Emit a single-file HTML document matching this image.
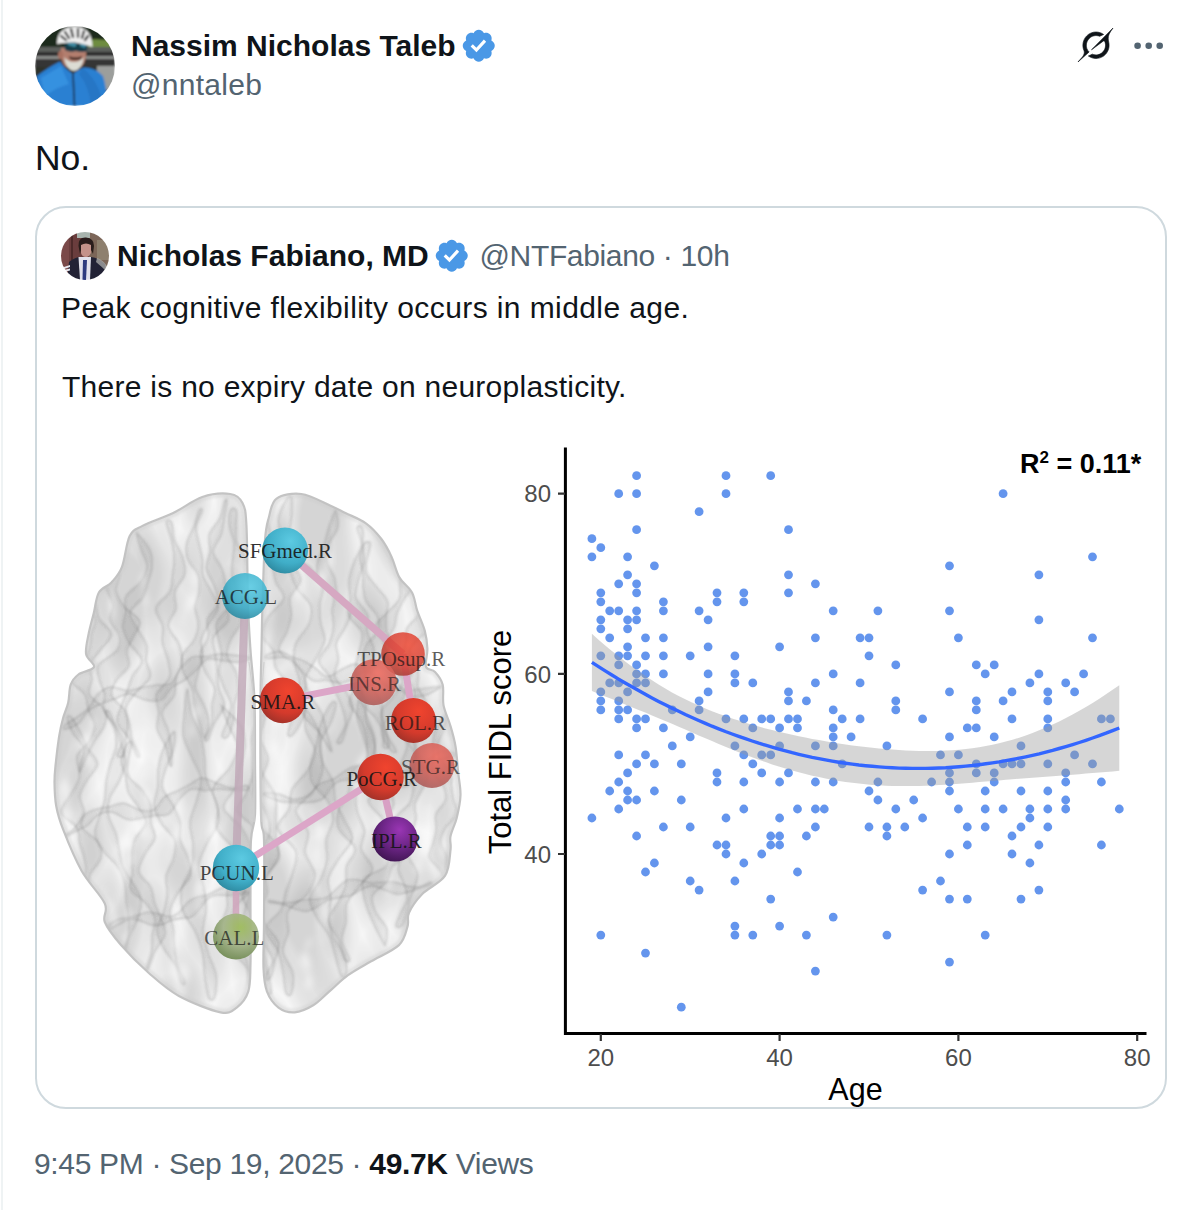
<!DOCTYPE html>
<html><head><meta charset="utf-8">
<style>
html,body{margin:0;padding:0;background:#fff;width:1194px;height:1210px;overflow:hidden;position:relative}
body{font-family:"Liberation Sans",sans-serif;color:#0f1419}
.t{position:absolute;white-space:pre;line-height:40px;font-size:30px}
.b{font-weight:700}
.g{color:#536471}
#lborder{position:absolute;left:1px;top:0;width:2px;height:1210px;background:#eff3f4}
#card{position:absolute;left:35px;top:206px;width:1128px;height:899px;border:2px solid #cfd9de;border-radius:31px;overflow:hidden}
svg{position:absolute;overflow:visible}
</style></head><body>
<div id="lborder"></div>

<!-- avatar 1 -->
<svg style="left:35px;top:26px" width="80" height="80" viewBox="0 0 80 80">
  <defs><clipPath id="av1"><circle cx="40" cy="40" r="40"/></clipPath>
  <filter id="avb" x="-10%" y="-10%" width="120%" height="120%"><feGaussianBlur stdDeviation="1"/></filter></defs>
  <g clip-path="url(#av1)"><g filter="url(#avb)">
    <rect width="80" height="80" fill="#2e302c"/>
    <rect x="0" y="0" width="80" height="21" fill="#1f2a1c"/>
    <path d="M52 14 Q66 12 80 16 L80 23 L52 23Z" fill="#6e8c40"/>
    <rect x="0" y="21" width="80" height="5" fill="#5c5e5c"/>
    <rect x="0" y="26" width="80" height="4" fill="#2a2b2a"/>
    <rect x="0" y="30" width="80" height="3" fill="#8a8c8a"/>
    <rect x="0" y="33" width="80" height="8" fill="#343534"/>
    <rect x="62" y="40" width="18" height="24" fill="#9c9e9c"/>
    <path d="M26 22 Q25 34 30 40 Q38 45 47 40 Q52 34 51 22Z" fill="#b37e6e"/>
    <ellipse cx="25.5" cy="29" rx="2.5" ry="4" fill="#a87060"/>
    <path d="M29 31 Q31 44 39 45 Q47 44 49 31 Q45 36 39 36 Q33 36 29 31Z" fill="#dcdcd4"/>
    <path d="M34 30 Q40 33 47 30 L46 33 Q40 35 35 33Z" fill="#3a2420"/>
    <path d="M29 15 Q41 13 53 16 L52 25 Q47 27 41 25 Q35 27 30 24Z" fill="#163c4a"/>
    <path d="M33 17 Q38 16 42 18 L40 21 Q36 20 33 19Z" fill="#3f8ea6"/>
    <path d="M45 18 Q49 17 51 19 L50 22 Q47 21 45 20Z" fill="#3f8ea6"/>
    <path d="M22 18 Q22 1 40 0.5 Q57 1 57.5 21 Q50 18 40 16.5 Q30 16 22 18Z" fill="#eeeeee"/>
    <path d="M30 6 L34 12 M36 3 L38 11 M43 3 L43 11 M49 5 L47 12 M26 10 L31 14 M53 10 L50 14" stroke="#1a1a1a" stroke-width="2.2" stroke-linecap="round"/>
    <path d="M2 50 Q12 42 25 35.5 Q29 42 38 48 Q46 42 49 41.5 Q62 42 68 50 Q72 62 72 80 L0 80Z" fill="#2c80d2"/>
    <path d="M6 52 Q16 46 26 40 Q30 50 34 58 Q20 62 10 70Z" fill="#3a98e6" opacity="0.7"/>
    <path d="M38 48 L39.5 80" stroke="#1c2c44" stroke-width="1.6"/>
    <path d="M48 42 Q58 50 64 64 L70 80 L56 80 Q54 60 44 48Z" fill="#2470bc" opacity="0.6"/>
  </g></g>
</svg>

<div class="t b" style="left:131px;top:25.6px">Nassim Nicholas Taleb</div>
<svg style="left:460px;top:27px" width="37.5" height="37.5" viewBox="0 0 24 24"><path fill="#4a98e6" d="M22.25 12c0-1.43-.88-2.67-2.19-3.34.46-1.39.2-2.9-.81-3.91s-2.52-1.27-3.91-.81c-.66-1.31-1.91-2.19-3.34-2.19s-2.67.88-3.33 2.19c-1.4-.46-2.91-.2-3.92.81s-1.26 2.520-.8 3.91c-1.31.67-2.2 1.91-2.2 3.34s.89 2.67 2.2 3.34c-.46 1.39-.21 2.9.8 3.91s2.52 1.26 3.91.81c.67 1.31 1.91 2.19 3.34 2.19s2.68-.88 3.34-2.19c1.39.45 2.9.2 3.91-.81s1.27-2.52.81-3.91c1.31-.67 2.19-1.91 2.19-3.34zm-11.71 4.2L6.8 12.460l1.41-1.42 2.26 2.26 4.8-5.23 1.47 1.36-6.2 6.77z"/></svg>
<div class="t g" style="left:131px;top:65.4px;letter-spacing:0.3px">@nntaleb</div>

<!-- grok icon -->
<svg style="left:1078px;top:28px" width="35" height="34" viewBox="0 0 33 32"><path fill="#0f1419" stroke="#0f1419" stroke-width="0.6" stroke-linejoin="round" d="M12.745 20.54l10.97-8.19c.539-.4 1.307-.244 1.564.38 1.349 3.288.746 7.241-1.938 9.955-2.683 2.714-6.417 3.31-9.83 1.954l-3.728 1.745c5.347 3.697 11.84 2.782 15.898-1.324 3.219-3.255 4.216-7.692 3.284-11.693l.008.009c-1.351-5.878.332-8.227 3.782-13.031L33 0l-4.54 4.59v-.014L12.743 20.544m-2.263 1.987c-3.837-3.707-3.175-9.446.1-12.755 2.42-2.449 6.388-3.448 9.852-1.979l3.72-1.737c-.67-.49-1.53-1.017-2.515-1.387-4.455-1.854-9.789-.931-13.41 2.728-3.483 3.523-4.579 8.94-2.697 13.561 1.405 3.454-.899 5.898-3.22 8.364C1.49 30.2.666 31.074 0 31.992l10.478-9.463"/></svg>
<svg style="left:1130px;top:38px" width="36" height="16" viewBox="0 0 36 16"><circle cx="7.6" cy="7.8" r="3.3" fill="#536471"/><circle cx="18.7" cy="7.8" r="3.3" fill="#536471"/><circle cx="29.7" cy="7.8" r="3.3" fill="#536471"/></svg>

<div class="t" style="left:34.9px;top:137.7px;font-size:35.5px">No.</div>

<div id="card">
</div>
<svg style="left:0;top:0" width="1194" height="1210" viewBox="0 0 1194 1210">
<defs>
<clipPath id="brainclip"><path d="M202.3 497.0 C211.8 493.8 223.5 493.0 230.2 494.0 C236.9 495.0 239.8 497.6 242.5 503.0 C245.2 508.4 245.6 509.7 246.5 526.5 C247.4 543.3 247.3 583.4 248.0 604.0 C248.7 624.6 249.4 634.0 250.5 650.0 C251.6 666.0 253.8 681.7 254.5 700.0 C255.2 718.3 254.9 740.8 255.0 760.0 C255.1 779.2 255.7 801.7 255.0 815.0 C254.3 828.3 251.8 826.0 251.0 840.0 C250.2 854.0 250.6 878.4 250.5 899.0 C250.4 919.6 250.9 948.2 250.5 963.6 C250.1 979.0 250.6 984.1 248.3 991.4 C246.0 998.7 241.3 1004.1 236.7 1007.6 C232.1 1011.1 230.1 1014.2 220.5 1012.3 C210.9 1010.4 190.8 1002.5 178.9 996.0 C167.0 989.5 158.5 981.5 148.8 973.0 C139.2 964.5 128.3 953.5 121.0 945.0 C113.7 936.5 107.5 928.9 104.8 922.0 C102.1 915.1 108.6 912.0 104.8 903.5 C101.0 895.0 88.7 883.4 81.7 871.0 C74.8 858.6 67.3 840.2 63.1 829.4 C58.9 818.6 57.6 813.7 56.2 806.0 C54.8 798.3 54.6 789.5 54.5 783.0 C54.4 776.5 54.6 774.5 55.4 766.7 C56.2 758.9 57.9 744.1 59.2 736.0 C60.5 727.9 61.6 723.5 63.1 718.0 C64.6 712.5 66.9 708.2 68.2 702.7 C69.5 697.2 69.0 689.4 70.7 684.7 C72.4 680.0 74.5 677.5 78.4 674.5 C82.3 671.5 92.7 670.4 94.0 667.0 C95.3 663.6 87.0 659.6 86.1 654.0 C85.2 648.4 87.4 640.3 88.7 633.5 C90.0 626.7 92.1 619.8 93.8 613.0 C95.5 606.2 95.9 597.6 98.9 592.5 C101.9 587.4 107.9 586.5 111.7 582.2 C115.5 577.9 119.0 574.6 122.0 566.9 C125.0 559.2 126.3 542.9 129.7 536.1 C133.1 529.3 135.2 529.8 142.5 525.9 C149.8 522.0 163.2 517.8 173.2 513.0 C183.2 508.2 192.8 500.2 202.3 497.0Z"/><path d="M268.9 517.2 C270.8 510.3 271.2 502.5 276.6 498.6 C282.0 494.7 292.5 492.9 301.4 494.0 C310.3 495.1 322.7 502.2 330.0 505.4 C337.3 508.6 339.4 510.0 345.4 513.0 C351.4 516.0 359.9 519.0 365.9 523.3 C371.9 527.6 376.9 533.2 381.2 538.7 C385.5 544.2 388.5 550.2 391.5 556.6 C394.5 563.0 395.8 571.1 399.2 577.1 C402.6 583.1 409.0 587.0 412.0 592.5 C415.0 598.0 415.0 604.0 417.1 610.4 C419.2 616.8 423.1 624.5 424.8 630.9 C426.5 637.3 427.2 642.9 427.4 648.9 C427.6 654.9 424.7 663.0 426.0 666.8 C427.3 670.6 432.2 668.9 435.0 671.9 C437.8 674.9 441.3 679.2 442.7 684.7 C444.1 690.2 442.2 698.4 443.5 705.2 C444.8 712.0 448.4 718.9 450.4 725.7 C452.4 732.5 454.2 738.5 455.5 746.2 C456.8 753.9 457.3 763.7 458.1 771.8 C458.9 779.9 460.7 787.3 460.5 795.0 C460.3 802.7 458.4 811.0 456.7 817.9 C455.0 824.8 451.5 831.0 450.5 836.4 C449.5 841.8 451.4 843.5 450.5 850.0 C449.6 856.5 449.9 868.3 445.1 875.7 C440.4 883.1 428.0 888.0 422.0 894.2 C416.0 900.4 411.4 907.3 409.0 912.7 C406.6 918.1 409.2 921.2 407.5 926.6 C405.8 932.0 405.0 939.3 398.9 945.1 C392.8 950.9 379.6 956.3 371.1 961.3 C362.6 966.3 354.9 970.2 348.0 975.2 C341.1 980.2 335.2 986.4 329.4 991.4 C323.6 996.4 319.0 1001.8 313.2 1005.3 C307.4 1008.8 300.5 1011.9 294.7 1012.3 C288.9 1012.7 283.1 1011.1 278.5 1007.6 C273.9 1004.1 269.4 998.0 266.9 991.4 C264.4 984.8 264.0 979.9 263.5 968.3 C263.0 956.7 263.9 943.4 264.0 922.0 C264.1 900.6 264.5 857.8 264.0 840.0 C263.5 822.2 261.6 838.3 261.0 815.0 C260.4 791.7 260.4 727.5 260.5 700.0 C260.6 672.5 261.2 666.0 261.5 650.0 C261.8 634.0 261.9 622.3 262.5 604.0 C263.1 585.7 263.9 554.5 265.0 540.0 C266.1 525.5 267.0 524.1 268.9 517.2Z"/></clipPath>
<filter id="turb" x="40" y="480" width="440" height="550" filterUnits="userSpaceOnUse">
 <feTurbulence type="turbulence" baseFrequency="0.014 0.006" numOctaves="2" seed="5" result="n"/>
 <feColorMatrix in="n" type="matrix" values="0 0 0 0 0  0 0 0 0 0  0 0 0 0 0  0 0 0 -2.2 1.0" result="a"/>
 <feFlood flood-color="#f6f6f6" result="w"/>
 <feComposite in="w" in2="a" operator="in" result="wa"/>
 <feFlood flood-color="#d5d5d5" result="g"/>
 <feComposite in="wa" in2="g" operator="over"/>
</filter>
<filter id="blur3"><feGaussianBlur stdDeviation="3"/></filter>
<filter id="blur1" x="-20%" y="-20%" width="140%" height="140%"><feGaussianBlur stdDeviation="0.8"/></filter>
<radialGradient id="cyan" cx="0.62" cy="0.3" r="0.8"><stop offset="0" stop-color="#5ccae2"/><stop offset="0.6" stop-color="#40aec8"/><stop offset="1" stop-color="#2a8298"/></radialGradient>
<radialGradient id="red" cx="0.62" cy="0.3" r="0.8"><stop offset="0" stop-color="#f0442e"/><stop offset="0.6" stop-color="#d43a2c"/><stop offset="1" stop-color="#963028"/></radialGradient>
<radialGradient id="redp" cx="0.6" cy="0.3" r="0.75"><stop offset="0" stop-color="#ee6a5e"/><stop offset="0.5" stop-color="#d36058"/><stop offset="1" stop-color="#a85a58"/></radialGradient>
<radialGradient id="purp" cx="0.6" cy="0.3" r="0.75"><stop offset="0" stop-color="#9a36b4"/><stop offset="0.5" stop-color="#6e2688"/><stop offset="1" stop-color="#3e1450"/></radialGradient>
<radialGradient id="grn" cx="0.6" cy="0.3" r="0.75"><stop offset="0" stop-color="#9ebc5c"/><stop offset="0.5" stop-color="#a4b48a"/><stop offset="1" stop-color="#6e8850"/></radialGradient>
</defs>
<g clip-path="url(#brainclip)">
<rect x="40" y="480" width="440" height="550" fill="#ddd" filter="url(#turb)"/>
<g fill="#000" fill-opacity="0.05" stroke="#5a5a5a" stroke-opacity="0.24" stroke-width="1.6" filter="url(#blur1)"><path d="M101.0 557.7 C100.1 560.3 92.4 567.7 89.9 572.8 C87.4 577.8 85.2 582.9 86.0 588.0 C86.9 593.0 92.8 598.2 95.0 603.3 C97.2 608.5 96.4 613.5 99.1 618.7 C101.9 623.8 111.1 629.0 111.4 634.1 C111.7 639.2 104.5 644.1 100.9 649.2 C97.4 654.2 91.7 659.2 90.1 664.2 C88.6 669.3 92.0 674.4 91.8 679.5 C91.7 684.6 87.1 689.6 89.4 694.7 C91.6 699.8 102.8 705.1 105.3 710.2 C107.8 715.3 106.3 720.4 104.5 725.4 C102.8 730.5 97.7 735.4 94.8 740.5 C91.9 745.5 89.5 750.5 87.1 755.6 C84.7 760.6 81.7 768.2 80.4 770.7 C79.0 773.2 79.5 773.2 79.0 770.7 C78.5 768.1 75.6 760.5 77.3 755.4 C79.1 750.4 86.9 745.4 89.8 740.4 C92.6 735.4 94.9 730.3 94.6 725.2 C94.4 720.2 89.9 715.0 88.3 709.9 C86.7 704.8 87.9 699.7 84.9 694.6 C81.8 689.5 70.9 684.2 70.0 679.1 C69.2 674.0 76.5 669.1 79.8 664.0 C83.1 659.0 87.7 654.0 89.7 649.0 C91.6 643.9 90.5 638.8 91.4 633.8 C92.3 628.7 97.1 623.7 95.2 618.6 C93.2 613.5 82.4 608.2 79.7 603.1 C76.9 598.0 77.7 592.9 78.8 587.8 C79.8 582.8 83.0 577.7 85.8 572.7 C88.6 567.7 92.9 560.1 95.4 557.6 C98.0 555.1 102.0 555.2 101.0 557.7Z"/><path d="M124.2 546.0 C123.6 548.5 119.0 555.9 118.2 560.8 C117.4 565.8 119.7 570.8 119.3 575.8 C118.9 580.8 115.3 585.7 116.0 590.7 C116.7 595.7 119.6 600.7 123.5 605.8 C127.4 610.9 137.9 616.1 139.6 621.2 C141.3 626.2 136.0 631.1 133.9 636.0 C131.8 640.9 127.6 645.8 126.8 650.8 C125.9 655.7 130.6 660.8 128.9 665.8 C127.1 670.7 119.1 675.5 116.3 680.4 C113.4 685.3 110.1 690.2 111.5 695.3 C112.9 700.3 122.1 705.5 124.7 710.6 C127.4 715.6 127.3 720.6 127.5 725.6 C127.6 730.6 126.2 735.5 125.6 740.5 C125.0 745.5 125.3 752.9 123.9 755.4 C122.5 757.9 117.4 757.7 117.2 755.2 C117.0 752.7 123.1 745.4 122.7 740.4 C122.3 735.4 118.2 730.3 114.9 725.3 C111.7 720.2 105.1 715.0 103.4 710.0 C101.7 705.0 105.4 700.1 104.8 695.1 C104.1 690.1 100.5 685.0 99.5 680.0 C98.5 675.0 95.7 669.9 98.6 665.0 C101.6 660.1 113.5 655.4 116.9 650.5 C120.4 645.6 120.4 640.6 119.3 635.6 C118.2 630.6 111.3 625.5 110.3 620.4 C109.2 615.4 113.5 610.6 113.0 605.6 C112.5 600.6 109.3 595.5 107.3 590.5 C105.3 585.4 100.1 580.3 100.8 575.3 C101.5 570.4 108.1 565.6 111.6 560.7 C115.2 555.8 119.8 548.4 121.9 546.0 C123.9 543.5 124.8 543.5 124.2 546.0Z"/><path d="M138.0 534.0 C140.2 536.8 147.7 545.1 150.0 550.5 C152.4 555.8 152.3 561.1 152.0 566.4 C151.7 571.6 149.6 576.8 148.0 582.0 C146.5 587.1 145.8 592.4 142.8 597.5 C139.9 602.6 131.0 607.4 130.1 612.6 C129.3 617.8 134.7 623.4 137.5 628.8 C140.2 634.2 145.1 639.7 146.6 645.1 C148.0 650.4 145.6 655.6 146.2 660.9 C146.8 666.2 151.8 671.7 150.2 676.9 C148.6 682.1 140.6 686.9 136.6 692.0 C132.6 697.0 127.3 702.0 126.1 707.2 C124.9 712.4 128.5 717.9 129.5 723.2 C130.5 728.5 130.6 733.8 132.2 739.1 C133.9 744.5 138.8 752.6 139.5 755.3 C140.2 758.0 138.2 757.9 136.5 755.2 C134.9 752.4 132.6 744.4 129.4 739.0 C126.2 733.5 118.8 727.9 117.4 722.5 C116.0 717.2 119.4 712.1 121.0 706.9 C122.6 701.7 125.1 696.6 127.0 691.4 C128.9 686.3 130.0 681.1 132.5 675.9 C135.0 670.8 142.4 665.9 142.0 660.6 C141.6 655.4 133.3 649.6 130.1 644.2 C126.9 638.8 123.6 633.3 122.8 628.0 C122.1 622.7 125.1 617.6 125.6 612.4 C126.2 607.1 123.5 601.7 126.0 596.6 C128.6 591.4 137.4 586.7 141.0 581.6 C144.5 576.5 147.0 571.4 147.1 566.1 C147.2 560.8 143.1 555.4 141.4 550.0 C139.6 544.6 137.2 536.6 136.6 533.9 C136.0 531.3 135.7 531.3 138.0 534.0Z"/><path d="M171.6 522.3 C172.9 525.3 172.5 533.9 174.3 539.8 C176.2 545.6 181.0 551.6 182.7 557.4 C184.4 563.2 185.9 569.1 184.5 574.8 C183.2 580.5 176.2 585.9 174.8 591.6 C173.3 597.3 176.8 603.3 175.7 609.0 C174.6 614.7 167.6 620.1 168.2 625.9 C168.7 631.7 176.6 637.8 178.9 643.7 C181.2 649.6 182.6 655.4 182.1 661.1 C181.6 666.9 177.2 672.4 175.9 678.1 C174.6 683.8 176.5 689.7 174.3 695.3 C172.0 701.0 163.3 706.4 162.2 712.1 C161.1 717.8 166.4 723.8 167.9 729.6 C169.4 735.5 170.5 741.3 171.1 747.1 C171.8 752.9 172.1 761.5 171.8 764.4 C171.6 767.3 170.7 767.2 169.7 764.3 C168.7 761.4 168.0 752.7 165.9 746.8 C163.8 741.0 158.5 735.0 157.3 729.2 C156.1 723.4 158.9 717.7 158.7 711.9 C158.5 706.2 154.6 700.2 156.4 694.6 C158.2 688.9 167.5 683.5 169.4 677.8 C171.3 672.2 169.2 666.3 168.0 660.5 C166.9 654.7 163.5 648.8 162.6 643.0 C161.7 637.2 163.7 631.5 162.6 625.7 C161.4 619.9 154.6 613.8 155.8 608.1 C157.1 602.4 167.1 597.1 170.0 591.4 C172.8 585.8 172.0 580.0 172.7 574.3 C173.5 568.5 174.5 562.8 174.2 557.0 C174.0 551.3 172.7 545.4 171.4 539.6 C170.1 533.8 166.3 525.0 166.3 522.1 C166.4 519.2 170.2 519.4 171.6 522.3Z"/><path d="M202.1 510.8 C201.6 513.5 196.7 521.5 196.2 526.8 C195.6 532.2 197.7 537.6 198.8 543.0 C199.8 548.4 201.8 553.8 202.4 559.1 C203.1 564.5 201.2 569.8 202.7 575.2 C204.1 580.6 208.7 586.1 211.3 591.5 C214.0 596.9 218.7 602.3 218.3 607.7 C217.9 613.0 211.8 618.3 209.0 623.6 C206.1 629.0 202.2 634.3 201.2 639.6 C200.1 645.0 203.2 650.4 202.7 655.7 C202.3 661.1 199.7 666.4 198.5 671.8 C197.2 677.1 194.5 682.4 195.4 687.8 C196.2 693.2 201.3 698.7 203.5 704.1 C205.7 709.5 208.2 714.9 208.5 720.2 C208.9 725.6 206.5 733.6 205.6 736.3 C204.8 739.0 204.7 739.0 203.5 736.3 C202.3 733.6 200.2 725.5 198.7 720.1 C197.1 714.7 195.5 709.3 194.4 703.9 C193.3 698.5 193.7 693.2 191.8 687.8 C190.0 682.4 184.8 676.9 183.3 671.5 C181.7 666.1 180.5 660.8 182.4 655.4 C184.3 650.1 191.9 644.8 194.5 639.5 C197.2 634.2 198.3 628.8 198.3 623.5 C198.4 618.1 194.9 612.7 195.0 607.3 C195.1 602.0 198.6 596.6 199.1 591.3 C199.6 585.9 199.9 580.6 198.1 575.2 C196.2 569.8 189.7 564.3 187.8 558.9 C186.0 553.5 185.9 548.1 186.9 542.8 C187.9 537.4 191.8 532.1 193.8 526.8 C195.8 521.5 197.5 513.4 198.9 510.8 C200.2 508.1 202.5 508.1 202.1 510.8Z"/><path d="M227.0 501.2 C227.0 504.0 225.3 512.5 224.3 518.1 C223.3 523.8 222.9 529.4 221.1 535.1 C219.2 540.7 213.0 546.1 213.1 551.8 C213.3 557.5 220.1 563.4 222.1 569.2 C224.2 575.0 225.1 580.7 225.7 586.4 C226.3 592.1 225.4 597.7 225.8 603.4 C226.2 609.1 230.3 615.0 228.3 620.6 C226.2 626.2 215.5 631.5 213.4 637.1 C211.2 642.7 214.7 648.5 215.4 654.2 C216.1 659.9 216.9 665.6 217.5 671.3 C218.0 677.0 217.6 682.7 218.8 688.4 C220.0 694.1 225.1 700.0 224.4 705.7 C223.7 711.3 217.4 716.8 214.8 722.4 C212.1 728.0 209.9 736.4 208.3 739.2 C206.6 742.0 204.3 741.9 204.9 739.1 C205.5 736.2 210.7 727.9 211.9 722.3 C213.1 716.6 211.4 710.9 211.9 705.2 C212.3 699.5 215.8 694.0 214.6 688.3 C213.4 682.5 207.2 676.6 204.8 670.8 C202.4 665.1 199.7 659.3 200.3 653.6 C200.8 648.0 207.2 642.5 208.3 636.9 C209.5 631.2 205.6 625.4 207.2 619.8 C208.9 614.2 217.1 608.8 218.2 603.1 C219.4 597.5 216.2 591.7 214.2 585.9 C212.3 580.2 207.2 574.3 206.5 568.6 C205.8 562.9 209.5 557.4 210.0 551.7 C210.5 546.0 207.7 540.2 209.3 534.6 C211.0 529.0 217.4 523.6 220.0 518.0 C222.5 512.4 223.5 503.9 224.6 501.1 C225.8 498.3 227.1 498.3 227.0 501.2Z"/><path d="M236.3 510.6 C237.2 513.3 236.0 521.3 236.1 526.7 C236.2 532.1 235.4 537.5 237.0 543.0 C238.7 548.4 243.8 554.2 246.0 559.7 C248.2 565.3 251.0 570.8 250.4 576.2 C249.8 581.5 244.2 586.5 242.5 591.8 C240.7 597.1 240.1 602.4 239.7 607.8 C239.4 613.1 241.8 618.7 240.3 624.0 C238.8 629.2 233.0 634.2 230.8 639.5 C228.6 644.7 226.1 649.9 227.0 655.4 C227.9 660.8 234.1 666.6 236.0 672.1 C237.9 677.7 238.6 683.1 238.3 688.5 C238.0 693.8 235.1 699.0 234.2 704.3 C233.4 709.7 234.3 715.1 233.2 720.4 C232.2 725.8 229.9 733.7 228.0 736.2 C226.2 738.8 222.2 738.5 222.1 735.8 C222.1 733.1 226.1 725.3 227.6 720.1 C229.0 714.8 231.7 709.6 231.1 704.1 C230.5 698.7 226.0 693.0 223.9 687.5 C221.9 682.0 219.2 676.4 218.9 671.0 C218.5 665.6 221.9 660.4 221.8 655.0 C221.7 649.6 219.2 644.1 218.3 638.6 C217.5 633.2 214.8 627.6 216.6 622.4 C218.4 617.1 225.7 612.2 229.0 607.0 C232.3 601.9 235.9 596.7 236.4 591.4 C236.9 586.0 232.8 580.4 232.1 574.9 C231.5 569.5 232.4 564.2 232.8 558.8 C233.1 553.5 234.7 548.2 234.2 542.8 C233.6 537.3 230.2 531.7 229.6 526.3 C229.0 520.9 229.4 512.8 230.6 510.2 C231.7 507.6 235.4 507.8 236.3 510.6Z"/><path d="M71.8 717.7 C74.1 720.2 78.1 728.0 80.8 733.1 C83.5 738.2 85.1 743.4 87.9 748.6 C90.6 753.7 97.5 758.7 97.4 763.9 C97.2 769.2 90.0 774.7 87.1 780.1 C84.2 785.4 80.4 790.8 79.9 796.1 C79.4 801.4 83.8 806.4 84.2 811.7 C84.5 816.9 79.8 822.3 82.2 827.5 C84.5 832.6 95.1 837.5 98.3 842.6 C101.4 847.7 102.2 852.9 100.8 858.2 C99.5 863.5 92.2 869.1 90.0 874.4 C87.9 879.7 89.7 884.9 87.8 890.2 C86.0 895.5 79.7 901.0 79.2 906.3 C78.6 911.6 81.9 916.7 84.5 921.8 C87.1 927.0 93.8 934.6 94.5 937.2 C95.3 939.8 91.3 939.9 88.8 937.4 C86.3 934.9 82.2 927.2 79.6 922.0 C77.0 916.9 74.7 911.7 73.2 906.5 C71.7 901.3 68.5 896.2 70.5 890.9 C72.5 885.6 82.7 879.9 85.0 874.6 C87.4 869.3 85.3 864.1 84.4 858.9 C83.5 853.7 81.0 848.5 79.7 843.3 C78.4 838.1 79.9 832.8 76.8 827.7 C73.7 822.6 62.6 817.8 61.3 812.6 C60.1 807.4 66.5 801.9 69.3 796.5 C72.2 791.1 76.6 785.7 78.4 780.4 C80.2 775.1 79.0 769.9 80.1 764.6 C81.1 759.3 85.6 753.9 84.5 748.7 C83.3 743.5 76.1 738.5 73.2 733.4 C70.3 728.3 67.4 720.5 67.1 717.9 C66.9 715.3 69.5 715.2 71.8 717.7Z"/><path d="M109.5 712.3 C111.3 715.0 114.3 723.4 116.3 728.9 C118.4 734.5 120.4 740.1 121.9 745.7 C123.4 751.3 125.7 756.8 125.3 762.6 C124.9 768.4 122.2 774.4 119.6 780.4 C116.9 786.5 111.3 792.8 109.4 798.7 C107.6 804.6 107.5 810.4 108.6 816.0 C109.6 821.7 113.8 827.1 115.6 832.7 C117.4 838.2 118.2 843.9 119.4 849.6 C120.6 855.2 120.4 861.0 122.6 866.6 C124.8 872.1 129.5 877.4 132.6 882.9 C135.7 888.4 140.1 893.7 141.0 899.4 C142.0 905.0 140.1 911.0 138.3 916.9 C136.5 922.8 132.6 929.0 130.3 934.9 C128.0 940.9 125.9 949.8 124.5 952.8 C123.2 955.8 121.7 955.9 122.3 953.0 C122.9 950.0 127.1 941.0 128.2 935.1 C129.2 929.3 129.0 923.5 128.7 917.8 C128.4 912.1 126.8 906.5 126.1 900.8 C125.5 895.1 126.2 889.3 124.8 883.6 C123.4 878.0 121.5 872.4 118.0 867.0 C114.5 861.6 107.3 856.5 103.5 851.1 C99.7 845.7 95.8 840.3 95.0 834.6 C94.3 828.9 97.6 822.8 99.3 816.9 C100.9 811.0 103.7 805.0 104.9 799.1 C106.0 793.2 105.2 787.6 106.1 781.7 C107.0 775.9 108.6 770.0 110.3 764.0 C112.0 758.1 115.5 752.0 116.2 746.2 C116.9 740.4 116.0 734.7 114.3 729.1 C112.5 723.5 106.4 715.5 105.6 712.7 C104.8 709.9 107.7 709.6 109.5 712.3Z"/><path d="M131.6 743.3 C131.8 746.0 128.9 754.4 128.3 759.8 C127.8 765.3 125.9 770.9 128.3 776.0 C130.7 781.2 138.8 785.7 142.6 790.7 C146.3 795.7 149.5 800.8 150.8 806.0 C152.2 811.3 150.1 816.9 150.7 822.2 C151.4 827.6 155.9 832.5 154.8 838.0 C153.7 843.5 146.9 849.6 144.3 855.3 C141.6 860.9 137.8 866.7 138.9 872.0 C140.0 877.3 148.1 881.9 150.7 887.0 C153.3 892.1 152.8 897.6 154.5 902.8 C156.2 908.0 159.2 913.1 160.9 918.3 C162.7 923.5 166.1 928.5 165.1 934.0 C164.1 939.5 157.6 945.6 154.9 951.3 C152.2 957.0 150.2 965.3 148.8 968.1 C147.3 971.0 145.8 971.1 146.2 968.4 C146.7 965.6 150.5 957.1 151.5 951.6 C152.5 946.1 151.7 940.8 152.2 935.4 C152.8 929.9 156.0 924.2 155.0 918.9 C153.9 913.6 150.1 908.6 146.0 903.6 C142.0 898.7 132.9 894.2 130.6 889.1 C128.4 883.9 132.3 878.1 132.5 872.7 C132.7 867.3 131.8 862.0 132.1 856.5 C132.4 851.1 132.1 845.7 134.4 840.1 C136.7 834.5 145.1 828.2 145.8 822.7 C146.5 817.3 141.5 812.4 138.6 807.3 C135.7 802.2 130.6 797.4 128.4 792.2 C126.3 787.0 126.8 781.6 125.6 776.3 C124.4 771.0 121.0 766.0 121.3 760.6 C121.5 755.1 125.5 746.6 127.2 743.8 C129.0 740.9 131.5 740.6 131.6 743.3Z"/><path d="M175.0 733.5 C175.1 736.4 174.5 745.4 172.9 751.3 C171.4 757.3 167.3 763.4 165.5 769.4 C163.8 775.4 161.0 781.4 162.2 787.3 C163.4 793.2 169.7 798.9 172.6 804.7 C175.6 810.5 178.8 816.4 180.1 822.2 C181.4 828.1 179.0 834.1 180.3 840.0 C181.6 845.9 186.0 851.7 187.7 857.5 C189.4 863.4 192.3 869.2 190.6 875.2 C188.9 881.2 181.1 887.4 177.6 893.5 C174.2 899.6 170.5 905.6 169.8 911.6 C169.2 917.5 172.8 923.3 173.5 929.2 C174.3 935.1 173.9 941.1 174.6 947.0 C175.2 952.9 175.5 958.8 177.3 964.7 C179.0 970.5 184.3 979.2 185.0 982.2 C185.6 985.1 182.7 985.2 181.1 982.3 C179.4 979.4 178.0 970.6 175.1 964.8 C172.1 958.9 166.3 953.2 163.3 947.4 C160.3 941.6 156.8 935.8 156.9 929.8 C157.0 923.9 162.1 917.8 163.9 911.8 C165.6 905.8 166.9 899.8 167.3 893.9 C167.7 887.9 165.1 882.1 166.1 876.1 C167.2 870.2 172.1 864.0 173.6 858.1 C175.0 852.1 176.9 846.1 174.8 840.2 C172.7 834.4 164.5 828.7 161.0 822.9 C157.6 817.1 154.8 811.3 154.2 805.4 C153.7 799.5 157.0 793.4 157.7 787.5 C158.4 781.5 157.4 775.6 158.2 769.7 C158.9 763.7 160.0 757.8 162.3 751.7 C164.5 745.7 169.7 736.6 171.8 733.6 C173.9 730.6 174.8 730.5 175.0 733.5Z"/><path d="M188.1 691.4 C188.9 695.1 189.1 706.0 191.1 713.2 C193.2 720.5 198.4 727.6 200.6 734.8 C202.8 742.1 203.6 749.4 204.5 756.6 C205.4 763.9 204.3 771.2 206.1 778.5 C207.8 785.7 213.1 792.9 215.2 800.1 C217.3 807.3 220.0 814.5 218.6 821.9 C217.2 829.2 210.0 836.7 206.7 844.1 C203.3 851.5 199.1 859.0 198.6 866.3 C198.2 873.6 202.7 880.8 203.9 888.0 C205.1 895.3 206.1 902.6 205.9 909.9 C205.8 917.2 202.6 924.6 203.0 931.8 C203.4 939.1 206.2 946.3 208.3 953.6 C210.5 960.8 215.0 968.0 216.1 975.2 C217.1 982.5 215.9 993.5 214.6 997.2 C213.4 1000.9 210.2 1001.0 208.5 997.4 C206.9 993.8 205.6 982.9 204.6 975.6 C203.6 968.3 204.3 961.0 202.8 953.7 C201.3 946.5 199.0 939.3 195.6 932.1 C192.3 924.9 185.1 917.8 182.8 910.6 C180.5 903.3 180.3 896.0 181.7 888.7 C183.2 881.3 189.8 873.8 191.7 866.5 C193.6 859.1 193.4 851.8 193.1 844.6 C192.8 837.3 189.4 830.1 190.0 822.8 C190.5 815.4 194.7 808.0 196.6 800.7 C198.4 793.3 201.8 785.9 201.0 778.6 C200.2 771.4 194.6 764.2 191.7 757.0 C188.7 749.8 184.4 742.6 183.2 735.4 C182.0 728.1 183.8 720.8 184.3 713.4 C184.9 706.1 185.9 695.1 186.6 691.5 C187.2 687.8 187.4 687.8 188.1 691.4Z"/><path d="M223.5 707.4 C226.8 710.6 237.9 720.0 241.4 726.5 C245.0 733.0 244.9 739.7 244.8 746.4 C244.6 753.1 242.0 760.0 240.6 766.7 C239.1 773.5 239.0 780.2 236.1 787.0 C233.3 793.9 222.8 801.1 223.6 807.7 C224.4 814.4 236.4 820.5 240.9 826.9 C245.4 833.4 248.8 839.9 250.6 846.5 C252.4 853.1 251.1 859.9 251.9 866.5 C252.6 873.2 258.0 879.6 255.1 886.4 C252.2 893.3 238.0 900.7 234.5 907.6 C230.9 914.4 232.7 921.0 234.0 927.7 C235.2 934.3 239.4 940.8 241.9 947.3 C244.4 953.9 246.4 960.5 248.9 967.1 C251.5 973.6 256.8 983.4 257.0 986.7 C257.2 990.1 251.9 990.3 250.1 987.1 C248.3 983.8 250.0 973.7 246.3 967.2 C242.6 960.7 232.2 954.5 227.8 948.1 C223.5 941.6 220.2 935.1 220.1 928.4 C220.0 921.7 225.9 914.7 227.3 907.9 C228.6 901.2 225.4 894.7 228.0 887.8 C230.6 881.0 242.2 873.7 242.9 867.0 C243.6 860.3 236.8 853.9 232.4 847.4 C228.1 841.0 219.0 834.8 216.6 828.2 C214.3 821.6 218.7 814.7 218.1 808.0 C217.5 801.4 211.1 795.0 213.1 788.2 C215.1 781.4 226.0 774.2 230.1 767.3 C234.1 760.4 237.8 753.5 237.6 746.8 C237.5 740.1 232.0 733.7 229.4 727.1 C226.7 720.6 222.8 710.8 221.9 707.5 C220.9 704.2 220.2 704.2 223.5 707.4Z"/><path d="M260.6 741.8 C262.1 744.5 267.7 752.6 268.0 758.2 C268.3 763.8 265.0 769.6 262.5 775.4 C259.9 781.1 253.3 787.1 252.9 792.8 C252.5 798.4 258.8 803.7 259.9 809.2 C261.0 814.8 257.0 820.6 259.5 826.1 C262.0 831.6 271.6 836.7 274.9 842.1 C278.1 847.6 280.6 853.1 279.1 858.8 C277.6 864.5 267.6 870.6 265.6 876.4 C263.7 882.1 268.3 887.5 267.2 893.1 C266.0 898.8 258.7 904.8 258.7 910.5 C258.6 916.1 263.7 921.4 267.0 926.9 C270.4 932.3 277.3 937.6 278.7 943.1 C280.0 948.7 276.3 954.5 275.0 960.2 C273.7 965.9 272.4 974.4 270.7 977.3 C268.9 980.2 264.4 980.4 264.7 977.6 C265.0 974.8 272.8 965.9 272.7 960.3 C272.6 954.7 266.8 949.4 264.1 943.9 C261.5 938.4 259.2 932.9 256.8 927.4 C254.4 921.9 251.8 916.5 249.5 911.0 C247.1 905.5 240.9 900.2 242.6 894.5 C244.3 888.8 257.1 882.5 259.6 876.7 C262.1 870.9 258.4 865.5 257.9 859.9 C257.4 854.3 257.3 848.7 256.5 843.1 C255.6 837.6 255.8 831.9 252.6 826.5 C249.4 821.0 238.1 816.0 237.1 810.5 C236.1 804.9 243.9 798.9 246.5 793.1 C249.1 787.3 250.7 781.6 252.7 775.9 C254.6 770.2 257.2 764.4 258.3 758.7 C259.4 753.1 258.8 744.7 259.2 741.8 C259.6 739.0 259.1 739.0 260.6 741.8Z"/><path d="M64.1 725.7 C66.0 723.8 72.4 720.5 76.4 717.6 C80.4 714.7 84.6 712.3 88.3 708.4 C91.9 704.4 94.4 697.5 98.2 693.9 C101.9 690.4 106.0 687.5 110.9 687.0 C115.8 686.5 122.4 690.7 127.6 690.7 C132.7 690.8 136.9 688.5 141.7 687.6 C146.4 686.6 151.2 685.9 156.1 685.2 C161.0 684.6 166.7 686.5 170.8 683.7 C174.9 681.0 177.0 673.1 180.5 668.7 C184.0 664.3 187.3 659.5 191.6 657.5 C196.0 655.5 201.7 657.1 206.6 656.5 C211.4 655.9 215.8 654.1 220.9 653.9 C225.9 653.8 231.5 655.1 236.8 655.6 C242.1 656.1 249.9 656.6 252.6 657.0 C255.3 657.3 255.2 657.0 252.9 657.9 C250.7 658.7 244.1 661.6 239.2 662.1 C234.3 662.5 228.7 661.2 223.4 660.7 C218.1 660.3 212.1 657.6 207.5 659.2 C203.0 660.7 200.1 666.5 196.3 670.0 C192.5 673.5 188.8 677.2 184.7 680.0 C180.7 682.9 176.0 683.9 172.1 687.2 C168.2 690.4 165.7 697.4 161.4 699.6 C157.1 701.8 151.8 701.0 146.3 700.1 C140.9 699.1 133.9 694.1 128.7 693.9 C123.6 693.7 119.7 697.1 115.2 698.7 C110.7 700.3 106.1 701.7 101.8 703.6 C97.4 705.5 92.9 707.1 89.0 710.4 C85.1 713.6 82.4 720.2 78.5 723.3 C74.6 726.4 67.8 728.7 65.4 729.1 C63.0 729.5 62.3 727.6 64.1 725.7Z"/><path d="M61.8 836.8 C63.8 835.2 70.2 832.6 73.9 829.0 C77.7 825.4 80.5 818.4 84.3 815.1 C88.2 811.8 92.6 810.6 96.9 809.2 C101.3 807.8 105.9 807.6 110.4 806.6 C114.9 805.6 118.8 802.8 123.7 803.4 C128.6 803.9 134.7 809.1 139.7 810.1 C144.7 811.2 149.7 812.0 153.8 809.8 C157.9 807.6 160.6 800.1 164.5 797.0 C168.4 793.9 172.9 793.2 177.1 791.2 C181.3 789.1 185.4 786.9 189.6 784.7 C193.7 782.5 197.3 778.2 201.9 778.0 C206.6 777.9 212.5 782.0 217.6 783.7 C222.8 785.3 228.2 787.7 233.0 788.1 C237.8 788.4 244.1 785.3 246.5 785.6 C248.9 785.9 249.8 789.0 247.6 789.7 C245.5 790.5 238.3 790.3 233.6 790.2 C228.8 790.1 223.8 789.1 219.1 789.1 C214.4 789.2 210.0 790.4 205.3 790.4 C200.6 790.4 195.1 787.7 190.8 789.2 C186.4 790.7 182.9 795.1 179.3 799.2 C175.7 803.3 173.1 811.2 169.1 813.9 C165.1 816.6 159.9 814.8 155.3 815.5 C150.8 816.2 146.4 817.4 141.9 818.1 C137.3 818.7 133.0 820.5 128.0 819.4 C123.0 818.4 116.8 812.7 111.8 811.9 C106.9 811.1 102.5 812.5 98.4 814.7 C94.3 816.9 91.0 822.4 87.1 825.3 C83.1 828.2 78.8 829.7 74.7 831.9 C70.6 834.1 64.4 837.7 62.3 838.5 C60.2 839.3 59.9 838.4 61.8 836.8Z"/><path d="M108.7 925.6 C110.0 924.0 114.5 920.8 117.6 919.5 C120.8 918.2 124.4 918.3 127.8 917.7 C131.2 917.0 134.5 916.2 137.8 915.4 C141.1 914.5 144.1 912.6 147.6 912.3 C151.1 912.1 155.0 913.1 158.7 913.9 C162.5 914.6 166.8 917.0 170.2 916.7 C173.7 916.4 176.7 914.4 179.6 912.0 C182.4 909.6 184.6 904.9 187.5 902.4 C190.3 900.0 193.5 898.4 196.7 897.2 C199.9 896.0 203.5 896.3 206.8 895.2 C210.0 894.1 213.0 892.0 216.1 890.7 C219.3 889.3 222.3 887.3 225.8 887.0 C229.2 886.7 233.2 888.1 237.0 888.9 C240.8 889.7 246.6 891.3 248.6 892.0 C250.6 892.7 250.6 892.7 248.9 893.1 C247.2 893.5 242.0 893.9 238.6 894.3 C235.1 894.7 231.7 895.3 228.2 895.4 C224.7 895.5 220.8 894.4 217.4 895.0 C214.0 895.5 210.6 896.3 207.7 898.6 C204.8 900.9 202.7 905.6 200.0 908.7 C197.3 911.7 194.7 915.2 191.6 916.8 C188.6 918.4 184.8 917.8 181.4 918.4 C178.0 919.0 174.6 919.2 171.3 920.3 C168.1 921.4 165.3 924.1 161.9 924.8 C158.6 925.6 155.0 925.6 151.3 924.9 C147.5 924.1 143.1 921.2 139.3 920.4 C135.5 919.5 131.8 919.0 128.4 919.7 C125.0 920.4 122.1 922.7 119.0 924.3 C115.9 925.9 111.5 929.1 109.8 929.3 C108.1 929.5 107.4 927.2 108.7 925.6Z"/><path d="M269.5 497.9 C269.3 500.7 266.1 509.6 266.2 515.3 C266.3 521.0 269.1 526.3 270.2 531.9 C271.2 537.4 269.2 543.4 272.6 548.6 C276.0 553.9 286.0 558.5 290.7 563.6 C295.4 568.8 301.0 573.8 300.9 579.5 C300.8 585.2 291.6 591.9 290.0 597.8 C288.4 603.7 291.9 608.9 291.4 614.7 C290.8 620.4 288.7 626.4 286.7 632.3 C284.6 638.2 277.5 644.7 279.2 650.2 C280.8 655.7 292.1 660.1 296.5 665.2 C300.9 670.4 304.5 675.7 305.7 681.2 C306.9 686.8 304.0 692.8 303.7 698.5 C303.4 704.2 305.7 709.7 304.0 715.5 C302.3 721.4 296.3 730.6 293.6 733.8 C291.0 736.9 288.2 737.2 288.0 734.4 C287.9 731.6 290.8 722.7 292.8 716.8 C294.8 710.9 300.8 704.5 300.0 698.9 C299.2 693.3 292.2 688.5 288.1 683.2 C284.1 678.0 277.9 673.1 275.5 667.7 C273.0 662.3 275.7 656.3 273.4 650.8 C271.1 645.4 262.5 640.7 261.6 635.1 C260.7 629.6 264.3 623.5 268.0 617.4 C271.6 611.3 282.4 604.3 283.8 598.5 C285.1 592.7 277.8 587.8 275.9 582.4 C274.0 576.9 273.7 571.3 272.3 565.7 C270.9 560.2 270.8 554.5 267.7 549.2 C264.6 543.9 255.3 539.3 253.7 533.8 C252.0 528.3 255.3 522.2 257.6 516.3 C260.0 510.3 265.7 501.1 267.7 498.1 C269.7 495.0 269.8 495.0 269.5 497.9Z"/><path d="M291.9 498.0 C292.7 501.0 292.0 510.2 291.6 516.3 C291.2 522.5 289.2 528.8 289.6 534.8 C290.0 540.9 290.5 546.9 294.2 552.6 C297.8 558.3 306.8 563.4 311.6 568.9 C316.4 574.5 321.5 580.0 322.8 585.9 C324.2 591.8 320.1 598.4 319.7 604.5 C319.4 610.7 319.8 616.7 320.6 622.7 C321.4 628.7 325.5 634.4 324.6 640.6 C323.7 646.7 318.5 653.4 315.2 659.9 C312.0 666.4 305.6 673.2 304.9 679.4 C304.3 685.5 308.5 691.1 311.3 696.9 C314.2 702.7 319.5 708.2 322.1 714.0 C324.6 719.8 324.9 725.8 326.5 731.8 C328.0 737.7 330.8 746.5 331.4 749.5 C332.0 752.5 331.8 752.5 329.8 749.7 C327.7 746.8 323.5 738.2 319.2 732.6 C314.9 727.0 307.3 721.7 304.0 716.0 C300.6 710.3 299.7 704.3 298.9 698.3 C298.2 692.3 300.2 686.0 299.4 680.0 C298.6 674.0 294.7 668.3 294.0 662.3 C293.4 656.3 293.2 650.2 295.7 643.8 C298.2 637.5 306.6 630.4 309.1 624.0 C311.6 617.7 312.7 611.4 310.7 605.6 C308.7 599.7 300.6 594.5 297.1 588.8 C293.7 583.1 291.5 577.3 290.0 571.4 C288.6 565.4 290.1 559.2 288.6 553.2 C287.2 547.3 283.0 541.7 281.4 535.8 C279.7 529.9 277.7 524.0 278.7 517.8 C279.6 511.6 284.7 501.9 286.9 498.6 C289.1 495.3 291.1 495.1 291.9 498.0Z"/><path d="M336.3 511.8 C336.8 514.5 338.9 522.6 337.5 528.2 C336.2 533.7 329.8 539.6 328.0 545.2 C326.2 550.8 325.9 556.3 327.0 561.7 C328.0 567.1 332.7 572.3 334.4 577.6 C336.2 583.0 334.8 588.6 337.6 593.9 C340.3 599.2 349.6 604.1 351.0 609.4 C352.4 614.8 348.3 620.6 345.8 626.2 C343.4 631.8 337.6 637.7 336.4 643.2 C335.2 648.8 338.7 654.0 338.4 659.5 C338.2 665.0 333.4 670.8 334.7 676.2 C336.0 681.5 343.1 686.6 346.1 691.9 C349.1 697.1 352.6 702.4 352.8 707.9 C353.0 713.3 349.2 719.0 347.4 724.6 C345.6 730.2 343.8 738.5 342.1 741.4 C340.5 744.2 336.7 744.5 337.2 741.7 C337.8 738.9 344.7 730.3 345.5 724.7 C346.4 719.2 344.0 713.9 342.4 708.5 C340.8 703.1 338.1 697.8 335.9 692.5 C333.8 687.2 332.4 681.8 329.5 676.5 C326.7 671.2 318.7 666.2 318.7 660.7 C318.6 655.3 326.7 649.3 329.2 643.7 C331.7 638.0 333.1 632.5 333.6 627.0 C334.1 621.5 332.2 616.1 332.2 610.6 C332.2 605.2 335.9 599.4 333.6 594.1 C331.3 588.8 321.3 583.9 318.6 578.6 C316.0 573.3 316.8 567.8 317.6 562.3 C318.5 556.7 322.2 551.0 324.0 545.5 C325.8 539.9 326.7 534.3 328.5 528.8 C330.3 523.2 333.4 514.8 334.7 511.9 C336.0 509.1 335.9 509.1 336.3 511.8Z"/><path d="M362.1 527.7 C363.1 530.6 362.9 539.3 363.2 545.1 C363.4 550.9 364.6 556.7 363.8 562.5 C363.0 568.4 359.6 574.3 358.3 580.2 C356.9 586.1 354.1 592.0 355.7 597.8 C357.2 603.5 365.5 609.0 367.4 614.7 C369.4 620.4 366.2 626.4 367.3 632.2 C368.4 637.9 373.4 643.5 373.9 649.3 C374.4 655.1 372.9 661.0 370.6 666.9 C368.3 672.8 361.0 679.0 360.2 684.8 C359.5 690.7 365.1 696.2 366.1 702.0 C367.0 707.8 364.7 713.7 365.9 719.5 C367.0 725.2 371.4 730.8 372.9 736.6 C374.4 742.3 375.9 748.1 375.0 754.0 C374.2 759.8 369.0 768.8 367.6 771.7 C366.2 774.7 366.7 774.7 366.6 771.8 C366.6 768.9 367.5 760.1 367.4 754.3 C367.4 748.5 367.4 742.7 366.3 736.9 C365.1 731.1 363.2 725.4 360.4 719.7 C357.6 714.0 350.0 708.5 349.3 702.8 C348.5 697.0 354.7 690.9 355.7 685.0 C356.8 679.2 354.7 673.4 355.4 667.6 C356.0 661.7 358.5 655.8 359.6 650.0 C360.7 644.1 363.8 638.1 362.0 632.4 C360.2 626.7 350.7 621.3 348.7 615.5 C346.7 609.8 350.1 603.8 350.1 598.0 C350.2 592.2 348.5 586.5 349.1 580.6 C349.7 574.8 351.8 568.9 353.8 563.0 C355.9 557.1 360.8 551.0 361.4 545.2 C361.9 539.4 357.2 530.8 357.3 527.9 C357.4 525.0 361.1 524.8 362.1 527.7Z"/><path d="M370.4 543.6 C370.9 546.0 367.9 553.4 367.2 558.3 C366.5 563.1 364.6 568.0 366.2 572.8 C367.8 577.6 373.1 582.3 376.6 587.1 C380.2 591.8 385.8 596.5 387.4 601.3 C389.0 606.1 386.3 611.0 386.2 615.9 C386.0 620.7 385.7 625.6 386.4 630.4 C387.1 635.2 391.1 639.9 390.3 644.8 C389.5 649.7 385.0 654.7 381.6 659.6 C378.3 664.6 371.4 669.6 370.2 674.5 C368.9 679.4 372.3 684.1 374.1 688.9 C376.0 693.7 380.1 698.4 381.5 703.2 C382.9 708.0 381.7 712.9 382.5 717.7 C383.2 722.6 385.0 727.4 386.1 732.2 C387.1 737.0 389.4 744.2 388.9 746.6 C388.5 749.1 384.3 749.2 383.3 746.8 C382.4 744.4 384.5 737.1 383.2 732.3 C381.9 727.4 378.9 722.7 375.5 717.9 C372.1 713.2 365.1 708.6 362.7 703.8 C360.3 699.0 360.6 694.2 361.0 689.3 C361.4 684.4 364.9 679.5 365.2 674.6 C365.4 669.8 362.4 665.0 362.6 660.2 C362.7 655.3 363.4 650.5 366.0 645.5 C368.5 640.6 376.1 635.5 378.0 630.6 C379.9 625.7 379.4 620.9 377.4 616.1 C375.5 611.3 368.7 606.7 366.4 601.9 C364.0 597.1 363.9 592.3 363.3 587.5 C362.8 582.6 363.7 577.8 363.1 572.9 C362.6 568.1 359.9 563.3 360.1 558.5 C360.3 553.6 362.4 546.3 364.1 543.8 C365.8 541.3 369.9 541.2 370.4 543.6Z"/><path d="M393.6 558.0 C395.7 560.3 401.4 567.2 404.5 571.9 C407.6 576.5 412.3 581.1 412.2 585.7 C412.1 590.3 406.3 594.8 403.8 599.4 C401.2 604.0 398.6 608.5 397.1 613.1 C395.5 617.7 395.9 622.3 394.4 626.8 C393.0 631.4 387.4 635.9 388.3 640.5 C389.1 645.1 395.5 649.8 399.5 654.4 C403.5 659.0 411.0 663.7 412.3 668.3 C413.6 672.9 408.8 677.5 407.5 682.0 C406.2 686.6 406.4 691.2 404.7 695.8 C402.9 700.3 400.3 704.9 397.0 709.5 C393.7 714.0 386.4 718.5 384.9 723.1 C383.4 727.7 386.2 732.3 388.1 736.9 C390.0 741.5 395.8 748.5 396.3 750.8 C396.9 753.1 393.6 753.0 391.3 750.7 C389.0 748.4 384.0 741.4 382.4 736.8 C380.8 732.2 381.8 727.7 381.7 723.1 C381.7 718.5 380.1 713.9 382.1 709.3 C384.2 704.7 390.5 700.2 393.8 695.7 C397.2 691.1 402.6 686.6 402.3 682.0 C402.0 677.4 394.6 672.7 392.1 668.1 C389.5 663.5 388.7 658.9 387.1 654.3 C385.5 649.7 384.6 645.1 382.6 640.5 C380.6 635.9 374.4 631.2 375.1 626.6 C375.8 622.0 382.9 617.5 386.9 613.0 C391.0 608.4 397.2 603.9 399.3 599.3 C401.5 594.8 399.9 590.2 399.9 585.6 C399.9 581.0 400.9 576.4 399.6 571.8 C398.3 567.2 393.1 560.3 392.1 558.0 C391.1 555.7 391.6 555.7 393.6 558.0Z"/><path d="M409.9 569.7 C411.4 571.8 415.0 577.8 417.5 581.7 C419.9 585.7 423.3 589.8 424.6 593.7 C425.8 597.7 424.3 601.5 424.9 605.5 C425.5 609.4 427.7 613.4 428.5 617.3 C429.2 621.3 431.1 625.2 429.2 629.1 C427.2 632.9 419.9 636.6 416.7 640.3 C413.4 644.1 409.7 647.9 409.7 651.8 C409.6 655.7 415.0 659.8 416.4 663.8 C417.9 667.7 418.2 671.7 418.4 675.6 C418.6 679.5 416.5 683.3 417.6 687.3 C418.7 691.2 423.4 695.3 424.8 699.3 C426.3 703.2 427.6 707.2 426.3 711.0 C424.9 714.9 419.6 718.6 416.7 722.4 C413.8 726.2 410.4 732.0 408.8 733.9 C407.1 735.8 406.4 735.7 407.0 733.8 C407.6 731.9 411.5 726.1 412.4 722.3 C413.3 718.4 412.0 714.4 412.3 710.5 C412.6 706.6 414.1 702.8 414.3 698.9 C414.5 695.0 415.5 691.1 413.3 687.1 C411.1 683.1 403.9 679.0 400.9 674.9 C397.8 670.9 394.7 666.9 395.1 663.0 C395.5 659.1 401.3 655.4 403.1 651.6 C404.9 647.7 405.4 643.8 406.0 640.0 C406.7 636.1 405.1 632.1 406.9 628.3 C408.8 624.4 414.7 620.7 417.0 616.9 C419.4 613.1 421.7 609.3 421.0 605.3 C420.3 601.4 415.1 597.3 413.0 593.3 C411.0 589.3 409.3 585.4 408.5 581.4 C407.7 577.5 408.2 571.6 408.4 569.7 C408.6 567.7 408.4 567.7 409.9 569.7Z"/><path d="M265.2 716.9 C265.1 720.2 261.1 729.9 259.5 736.4 C257.9 743.0 254.9 749.4 255.6 756.0 C256.3 762.6 260.3 769.2 263.6 775.8 C266.9 782.5 273.2 789.2 275.2 795.8 C277.3 802.4 275.9 808.9 276.0 815.4 C276.0 822.0 275.4 828.5 275.8 835.0 C276.1 841.6 279.5 848.2 278.3 854.8 C277.1 861.3 272.4 867.7 268.5 874.2 C264.5 880.6 256.8 887.0 254.7 893.5 C252.6 899.9 254.6 906.5 255.8 913.1 C257.1 919.7 260.8 926.3 262.1 932.9 C263.4 939.5 262.8 946.0 263.8 952.6 C264.9 959.2 267.1 965.8 268.3 972.4 C269.6 978.9 271.6 988.8 271.3 992.1 C270.9 995.3 267.1 995.2 266.1 991.9 C265.2 988.6 267.1 978.9 265.7 972.3 C264.3 965.7 261.0 959.1 257.6 952.4 C254.1 945.8 247.3 939.1 245.2 932.5 C243.0 925.9 243.6 919.4 244.4 912.8 C245.2 906.3 249.1 899.9 250.1 893.3 C251.1 886.8 249.4 880.2 250.6 873.7 C251.7 867.2 253.9 860.7 257.0 854.2 C260.1 847.8 267.4 841.4 269.1 834.9 C270.7 828.4 269.1 821.8 266.9 815.2 C264.7 808.6 258.1 801.9 255.8 795.3 C253.4 788.7 253.5 782.1 253.0 775.6 C252.5 769.0 252.9 762.5 252.8 755.9 C252.6 749.4 250.9 742.8 252.1 736.3 C253.2 729.7 257.6 720.0 259.7 716.8 C261.9 713.6 265.2 713.7 265.2 716.9Z"/><path d="M306.9 709.8 C309.2 713.5 316.6 724.6 319.1 731.7 C321.5 738.8 321.0 745.5 321.5 752.4 C322.0 759.3 323.5 766.3 322.1 772.9 C320.6 779.5 317.1 785.8 312.8 792.1 C308.5 798.3 296.8 803.7 296.0 810.4 C295.3 817.1 306.7 825.3 308.2 832.3 C309.7 839.3 304.0 845.4 305.1 852.3 C306.2 859.2 314.3 867.0 314.8 873.9 C315.2 880.8 312.3 887.2 307.8 893.4 C303.4 899.7 291.0 904.9 287.8 911.3 C284.5 917.7 289.2 925.1 288.4 931.7 C287.6 938.4 282.1 944.6 282.9 951.4 C283.6 958.3 291.5 966.1 292.9 973.1 C294.3 980.1 292.5 990.0 291.4 993.3 C290.2 996.5 287.3 996.2 285.9 992.6 C284.5 989.0 284.4 978.8 283.0 971.9 C281.7 964.9 280.8 958.0 277.9 950.8 C274.9 943.6 265.0 935.6 265.5 928.9 C265.9 922.1 277.2 916.7 280.6 910.4 C284.1 904.0 284.0 897.2 286.1 890.7 C288.3 884.2 291.7 877.8 293.3 871.2 C294.9 864.6 298.3 858.2 295.7 851.1 C293.0 844.0 278.6 835.4 277.5 828.4 C276.3 821.5 286.4 815.9 288.8 809.5 C291.3 803.0 289.0 795.9 292.0 789.5 C295.1 783.1 303.3 777.3 307.2 771.0 C311.0 764.7 315.6 758.5 315.3 751.6 C315.1 744.8 307.5 737.0 305.8 730.0 C304.1 723.0 305.0 712.9 305.1 709.6 C305.3 706.2 304.6 706.1 306.9 709.8Z"/><path d="M335.9 704.0 C335.9 707.2 333.1 717.0 330.4 723.5 C327.8 730.0 321.3 736.7 320.0 743.1 C318.7 749.6 320.5 756.0 322.7 762.4 C324.8 768.8 330.9 775.1 333.0 781.5 C335.1 787.9 333.5 794.4 335.4 800.9 C337.3 807.3 341.6 813.6 344.4 820.0 C347.2 826.4 353.1 832.7 352.2 839.2 C351.2 845.6 342.8 852.3 338.8 858.9 C334.9 865.4 329.7 872.0 328.3 878.5 C327.0 885.0 330.7 891.4 330.8 897.8 C330.9 904.3 328.7 910.8 329.0 917.2 C329.4 923.7 330.3 930.1 333.0 936.5 C335.6 942.9 342.5 949.2 344.7 955.6 C346.9 962.0 346.8 971.7 346.1 974.9 C345.5 978.2 342.7 978.2 340.9 975.0 C339.1 971.9 337.2 962.2 335.3 955.8 C333.4 949.4 332.7 943.0 329.6 936.6 C326.6 930.2 320.2 923.9 316.9 917.6 C313.5 911.2 309.0 904.8 309.7 898.4 C310.3 891.9 318.1 885.2 321.0 878.7 C323.9 872.2 326.1 865.7 327.0 859.2 C327.8 852.7 325.0 846.3 326.0 839.8 C327.0 833.4 332.6 826.8 332.9 820.3 C333.2 813.8 331.3 807.4 327.8 801.1 C324.2 794.7 314.5 788.5 311.7 782.1 C308.9 775.7 310.1 769.2 310.9 762.7 C311.7 756.3 315.0 749.7 316.6 743.2 C318.3 736.7 318.5 730.3 320.8 723.8 C323.2 717.2 328.3 707.4 330.8 704.1 C333.3 700.8 336.0 700.8 335.9 704.0Z"/><path d="M359.9 700.6 C361.6 703.8 366.0 713.5 368.5 720.0 C371.0 726.4 374.2 732.9 375.0 739.2 C375.9 745.5 373.7 751.4 373.8 757.6 C374.0 763.9 378.7 770.5 376.0 776.4 C373.2 782.3 360.4 787.3 357.3 793.2 C354.2 799.0 356.2 805.4 357.4 811.7 C358.7 818.0 364.0 824.8 364.6 831.0 C365.2 837.3 359.9 842.9 361.2 849.2 C362.5 855.6 372.9 862.8 372.6 868.9 C372.3 875.1 363.7 880.4 359.4 886.2 C355.1 892.0 348.9 897.5 346.6 903.5 C344.4 909.5 346.8 915.9 346.0 922.0 C345.2 928.1 341.2 933.9 341.8 940.2 C342.4 946.4 349.2 956.4 349.6 959.5 C349.9 962.6 345.9 962.2 344.1 959.0 C342.3 955.7 341.2 946.3 338.6 939.8 C336.0 933.4 328.4 926.5 328.3 920.3 C328.2 914.1 335.2 908.6 338.1 902.7 C341.1 896.8 344.4 890.9 345.8 884.9 C347.2 878.8 345.0 872.4 346.5 866.4 C348.0 860.3 356.4 855.0 355.1 848.6 C353.8 842.3 341.3 834.9 338.5 828.4 C335.8 822.0 337.1 815.9 338.8 809.9 C340.5 803.9 346.6 798.3 348.6 792.3 C350.5 786.3 347.2 779.8 350.2 773.9 C353.3 768.0 364.7 762.9 367.0 757.0 C369.3 751.0 365.4 744.4 363.8 738.1 C362.2 731.7 358.3 725.2 357.4 718.9 C356.5 712.6 357.9 703.5 358.4 700.4 C358.8 697.4 358.2 697.3 359.9 700.6Z"/><path d="M402.0 727.5 C404.2 730.4 406.9 738.5 409.5 744.1 C412.2 749.7 418.5 755.8 417.9 760.9 C417.4 766.1 410.7 770.3 406.4 775.0 C402.2 779.6 394.4 783.7 392.3 788.6 C390.1 793.5 394.2 799.3 393.7 804.4 C393.1 809.6 387.0 813.9 388.8 819.4 C390.6 824.9 401.3 831.6 404.5 837.2 C407.8 842.9 410.4 848.4 408.3 853.4 C406.2 858.3 395.7 862.0 392.1 866.7 C388.6 871.5 390.2 876.9 387.0 881.7 C383.7 886.4 374.6 890.3 372.7 895.3 C370.7 900.2 372.9 905.7 375.3 911.3 C377.6 916.8 385.0 923.1 386.7 928.5 C388.4 933.9 386.0 941.4 385.6 944.0 C385.1 946.5 385.7 946.6 384.0 943.8 C382.3 940.9 377.9 932.5 375.2 926.9 C372.6 921.3 370.0 915.8 368.0 910.3 C366.1 904.8 364.0 899.3 363.4 894.0 C362.8 888.7 360.6 883.2 364.4 878.5 C368.3 873.8 382.7 870.6 386.4 865.9 C390.2 861.3 387.2 855.6 386.9 850.4 C386.6 845.1 385.6 839.8 384.8 834.5 C383.9 829.1 384.7 824.0 381.9 818.4 C379.2 812.8 368.0 806.1 368.2 800.9 C368.4 795.7 378.5 791.9 383.2 787.3 C387.8 782.8 392.7 778.3 396.0 773.5 C399.3 768.7 400.9 763.8 402.8 758.8 C404.6 753.9 408.2 749.2 407.1 743.8 C406.0 738.4 397.1 729.4 396.2 726.6 C395.4 723.9 399.8 724.5 402.0 727.5Z"/><path d="M414.7 735.9 C415.7 738.3 415.4 745.1 416.9 749.7 C418.3 754.4 421.4 759.2 423.2 763.9 C425.1 768.7 428.0 773.5 427.7 778.0 C427.3 782.5 423.3 786.7 421.2 791.1 C419.0 795.4 415.6 799.7 414.8 804.2 C413.9 808.6 416.4 813.4 416.0 817.9 C415.6 822.4 414.2 826.9 412.4 831.2 C410.5 835.6 405.6 839.8 405.1 844.3 C404.6 848.8 407.2 853.5 409.3 858.3 C411.3 863.0 416.4 868.0 417.3 872.6 C418.3 877.2 416.3 881.6 415.1 886.1 C413.9 890.5 411.2 894.8 410.0 899.3 C408.7 903.7 409.0 908.3 407.6 912.7 C406.2 917.1 403.4 923.7 401.5 925.8 C399.5 927.9 396.0 927.6 396.0 925.4 C395.9 923.1 399.3 916.5 401.1 912.2 C403.0 907.8 406.7 903.5 407.3 899.0 C407.9 894.5 406.0 889.8 404.5 885.2 C403.1 880.5 399.3 875.6 398.5 871.0 C397.8 866.4 399.8 862.0 400.0 857.5 C400.1 852.9 400.5 848.4 399.4 843.8 C398.3 839.1 393.5 834.2 393.1 829.6 C392.7 825.0 394.1 820.6 396.8 816.2 C399.5 811.9 406.5 808.0 409.2 803.7 C411.9 799.4 412.6 794.9 413.0 790.4 C413.4 785.8 411.3 781.1 411.5 776.6 C411.8 772.1 414.0 767.7 414.5 763.2 C415.1 758.7 415.5 754.2 414.9 749.6 C414.3 745.0 411.0 737.9 411.0 735.6 C411.0 733.3 413.7 733.6 414.7 735.9Z"/><path d="M446.4 715.4 C446.4 717.7 445.6 724.8 444.2 729.5 C442.8 734.3 438.9 739.0 438.1 743.8 C437.3 748.5 437.3 753.2 439.4 757.9 C441.4 762.5 448.5 767.1 450.5 771.8 C452.5 776.5 451.0 781.2 451.5 785.9 C452.0 790.6 452.6 795.3 453.6 800.0 C454.5 804.7 458.5 809.3 457.1 814.1 C455.7 818.8 447.8 823.6 445.1 828.4 C442.4 833.1 440.3 837.9 440.7 842.6 C441.0 847.3 446.0 851.9 447.0 856.6 C448.1 861.3 446.1 866.0 446.8 870.7 C447.6 875.4 450.1 880.1 451.6 884.8 C453.0 889.4 456.0 894.1 455.5 898.8 C455.0 903.5 450.2 910.7 448.7 913.0 C447.2 915.4 446.8 915.4 446.5 913.1 C446.1 910.7 446.4 903.7 446.5 899.0 C446.6 894.2 448.0 889.5 446.9 884.8 C445.9 880.1 443.2 875.5 440.3 870.8 C437.3 866.1 430.4 861.5 429.2 856.9 C428.0 852.2 432.0 847.4 433.2 842.7 C434.4 837.9 436.0 833.2 436.4 828.5 C436.9 823.8 434.4 819.1 435.9 814.4 C437.4 809.7 444.3 804.9 445.5 800.1 C446.8 795.4 445.5 790.7 443.4 786.0 C441.2 781.4 434.3 776.8 432.6 772.1 C431.0 767.4 433.2 762.7 433.3 758.0 C433.4 753.2 432.7 748.5 433.1 743.8 C433.4 739.1 433.3 734.4 435.2 729.7 C437.1 724.9 442.5 717.8 444.3 715.4 C446.2 713.0 446.5 713.0 446.4 715.4Z"/><path d="M266.9 654.9 C269.2 653.7 276.1 651.1 280.3 651.5 C284.5 651.8 288.1 655.4 292.1 657.0 C296.1 658.6 300.2 659.3 304.2 661.2 C308.1 663.1 311.9 665.9 315.7 668.5 C319.5 671.1 322.9 676.5 327.1 676.8 C331.3 677.0 336.5 671.9 341.1 669.8 C345.7 667.7 350.5 664.5 354.9 664.1 C359.2 663.8 362.9 667.2 367.1 667.7 C371.2 668.2 375.9 665.9 380.0 667.1 C384.0 668.3 387.8 671.2 391.4 674.7 C395.1 678.2 398.1 685.7 401.9 688.3 C405.7 690.8 410.2 689.9 414.4 689.9 C418.7 689.8 423.2 688.6 427.6 688.0 C431.9 687.4 438.5 686.3 440.7 686.2 C442.8 686.1 442.9 685.8 440.5 687.2 C438.1 688.6 430.9 693.2 426.4 694.8 C421.8 696.4 417.4 697.6 413.2 697.0 C409.0 696.4 405.4 692.6 401.4 691.0 C397.4 689.5 393.1 689.9 389.2 687.9 C385.3 685.9 381.7 681.8 377.9 679.0 C374.1 676.2 370.7 671.2 366.4 671.3 C362.2 671.3 356.9 677.3 352.3 679.2 C347.7 681.2 343.1 682.8 338.8 683.0 C334.5 683.1 330.7 680.5 326.5 680.1 C322.3 679.7 317.6 682.3 313.6 680.8 C309.6 679.4 306.1 675.0 302.4 671.4 C298.8 667.8 295.6 661.4 291.8 659.1 C287.9 656.8 283.5 657.6 279.2 657.5 C275.0 657.4 268.3 658.9 266.3 658.5 C264.2 658.1 264.5 656.1 266.9 654.9Z"/><path d="M264.6 793.1 C266.9 792.9 274.1 793.3 279.1 794.3 C284.1 795.4 289.7 799.3 294.5 799.4 C299.3 799.6 303.7 797.9 308.0 795.3 C312.2 792.8 315.7 786.7 319.9 784.0 C324.1 781.3 328.9 781.4 333.2 779.2 C337.5 776.9 341.4 772.9 345.7 770.7 C350.1 768.4 354.1 765.0 359.0 765.7 C363.9 766.5 370.1 773.2 375.3 775.1 C380.5 777.0 385.3 777.6 390.0 777.0 C394.6 776.4 398.7 772.8 403.1 771.5 C407.6 770.1 412.6 771.0 416.9 769.0 C421.3 767.0 425.1 762.3 429.2 759.3 C433.4 756.4 437.3 752.3 441.9 751.3 C446.5 750.4 454.1 752.9 456.7 753.6 C459.2 754.2 459.2 754.4 457.0 755.2 C454.8 756.1 447.9 757.4 443.4 758.8 C439.0 760.3 434.5 761.5 430.2 763.9 C425.9 766.3 421.9 769.8 417.9 773.5 C413.9 777.2 410.6 784.4 406.2 786.2 C401.9 788.1 396.6 785.7 391.6 784.8 C386.7 783.8 381.3 781.0 376.5 780.7 C371.6 780.5 367.5 783.3 362.6 783.1 C357.8 782.9 352.3 779.3 347.6 779.5 C342.8 779.7 338.3 780.9 334.2 784.1 C330.1 787.2 327.1 795.4 322.9 798.5 C318.8 801.5 314.1 801.7 309.4 802.3 C304.8 803.0 299.9 802.4 295.1 802.3 C290.3 802.2 285.6 802.6 280.6 801.5 C275.6 800.4 267.8 797.1 265.1 795.7 C262.4 794.3 262.2 793.4 264.6 793.1Z"/><path d="M269.3 900.5 C271.2 900.5 277.4 902.4 281.4 902.7 C285.3 903.0 289.2 902.7 293.0 902.2 C296.8 901.7 300.5 900.2 304.3 899.7 C308.1 899.2 312.1 899.8 316.0 899.4 C319.8 898.9 323.7 898.9 327.3 897.0 C330.9 895.1 334.1 890.8 337.6 887.9 C341.0 885.1 344.3 881.1 348.0 879.8 C351.7 878.5 355.8 879.6 359.8 880.2 C363.8 880.7 368.0 882.6 371.9 883.0 C375.9 883.3 379.6 882.2 383.5 882.1 C387.4 882.0 391.2 881.7 395.2 882.4 C399.3 883.0 403.5 885.3 407.5 886.1 C411.6 886.8 415.6 887.4 419.4 886.8 C423.2 886.2 428.5 882.8 430.4 882.4 C432.3 882.1 432.5 883.6 430.7 884.6 C428.9 885.6 423.3 887.0 419.6 888.2 C415.9 889.4 412.2 891.0 408.4 891.9 C404.7 892.9 401.0 894.2 397.0 893.9 C393.1 893.6 388.8 891.3 384.7 890.0 C380.6 888.6 376.3 886.0 372.4 885.9 C368.5 885.8 364.9 887.8 361.2 889.4 C357.6 891.0 354.2 894.3 350.5 895.6 C346.8 897.0 342.9 896.9 339.1 897.6 C335.3 898.3 331.4 898.4 327.7 899.9 C324.1 901.5 320.7 904.9 317.1 906.8 C313.5 908.7 310.0 911.0 306.1 911.2 C302.2 911.5 298.0 909.5 293.9 908.4 C289.9 907.2 285.6 905.1 281.6 904.1 C277.5 903.2 271.7 903.1 269.6 902.5 C267.6 901.9 267.3 900.4 269.3 900.5Z"/></g>
<g fill="#ffffff" fill-opacity="0.55" filter="url(#blur3)"><path d="M210.4 791.6 C211.3 793.5 212.4 799.0 213.2 802.7 C214.0 806.4 214.4 810.1 215.1 813.8 C215.9 817.5 217.8 821.1 217.9 824.9 C218.0 828.7 216.7 832.5 215.7 836.4 C214.8 840.2 212.5 844.1 212.2 847.9 C211.9 851.7 213.3 855.3 213.9 859.1 C214.5 862.8 215.2 866.5 215.7 870.2 C216.1 873.9 216.7 879.5 216.7 881.4 C216.8 883.3 216.9 883.3 215.9 881.5 C215.0 879.7 212.1 874.2 211.0 870.6 C209.8 866.9 209.1 863.2 209.0 859.4 C209.0 855.7 210.5 851.8 210.5 848.0 C210.6 844.3 209.6 840.6 209.5 836.8 C209.4 833.1 209.3 829.3 209.8 825.5 C210.4 821.7 212.5 817.8 212.8 814.0 C213.0 810.2 212.1 806.5 211.4 802.8 C210.6 799.1 208.4 793.7 208.3 791.8 C208.1 789.9 209.6 789.8 210.4 791.6Z"/><path d="M269.1 770.8 C269.6 772.2 269.1 776.1 269.3 778.8 C269.5 781.4 269.2 784.0 270.2 786.8 C271.2 789.5 274.4 792.4 275.3 795.1 C276.2 797.8 276.5 800.5 275.8 803.1 C275.0 805.6 272.0 808.0 270.9 810.6 C269.9 813.1 270.1 815.8 269.5 818.4 C268.9 821.0 268.4 823.6 267.3 826.1 C266.3 828.7 264.1 832.4 263.1 833.7 C262.2 834.9 262.1 834.9 261.8 833.6 C261.5 832.2 260.6 828.2 261.0 825.6 C261.5 823.0 263.3 820.5 264.5 818.0 C265.8 815.4 268.2 813.0 268.5 810.4 C268.8 807.8 266.7 804.9 266.3 802.3 C265.9 799.6 265.6 796.9 265.9 794.3 C266.2 791.7 267.9 789.2 268.0 786.6 C268.0 783.9 266.4 781.2 266.1 778.5 C265.9 775.8 265.8 771.9 266.2 770.6 C266.7 769.3 268.6 769.5 269.1 770.8Z"/><path d="M181.2 922.2 C181.3 923.9 181.1 929.0 180.8 932.4 C180.5 935.8 180.4 939.2 179.5 942.5 C178.6 945.9 175.8 949.1 175.4 952.5 C175.0 955.9 176.1 959.3 177.1 962.8 C178.1 966.2 180.9 969.8 181.3 973.2 C181.8 976.7 180.3 980.0 179.8 983.4 C179.3 986.7 178.8 990.1 178.4 993.5 C178.0 996.9 178.0 1002.0 177.4 1003.6 C176.8 1005.3 175.1 1005.2 175.0 1003.5 C174.9 1001.8 176.9 996.8 176.9 993.4 C176.9 990.0 176.1 986.5 175.0 983.1 C173.9 979.6 171.0 976.0 170.4 972.6 C169.8 969.2 171.1 965.8 171.5 962.5 C171.9 959.1 172.6 955.7 172.6 952.3 C172.6 948.9 171.0 945.4 171.5 942.1 C172.0 938.7 174.1 935.4 175.6 932.1 C177.1 928.8 179.7 923.8 180.6 922.2 C181.5 920.5 181.2 920.5 181.2 922.2Z"/><path d="M138.6 725.8 C138.9 726.9 139.7 730.1 139.6 732.3 C139.5 734.6 138.5 736.9 138.0 739.2 C137.6 741.5 136.3 744.0 136.9 746.1 C137.4 748.2 140.2 750.1 141.5 752.1 C142.8 754.1 144.2 756.1 144.7 758.3 C145.3 760.4 144.4 762.8 144.8 765.0 C145.2 767.1 146.5 769.2 146.9 771.3 C147.3 773.5 147.4 776.8 147.0 778.0 C146.7 779.2 145.1 779.4 144.7 778.3 C144.2 777.3 144.8 773.9 144.5 771.7 C144.2 769.5 144.1 767.3 142.8 765.3 C141.5 763.2 138.2 761.5 136.7 759.5 C135.2 757.5 134.2 755.4 133.9 753.2 C133.6 751.0 134.9 748.6 134.9 746.4 C134.9 744.2 133.7 742.1 133.7 739.9 C133.6 737.7 133.7 735.4 134.4 733.1 C135.1 730.8 136.9 727.2 137.6 725.9 C138.3 724.7 138.3 724.7 138.6 725.8Z"/><path d="M194.1 566.7 C194.5 568.0 195.3 571.8 195.8 574.3 C196.4 576.9 197.5 579.5 197.5 581.9 C197.5 584.3 196.1 586.5 196.0 588.9 C195.8 591.3 196.5 593.8 196.4 596.2 C196.4 598.6 196.8 601.2 195.7 603.3 C194.5 605.5 191.2 607.3 189.5 609.4 C187.7 611.4 186.1 613.5 185.1 615.7 C184.1 618.0 184.2 621.6 183.6 622.7 C183.0 623.8 181.6 623.5 181.6 622.3 C181.6 621.1 183.1 617.7 183.8 615.5 C184.6 613.2 185.5 611.0 186.0 608.7 C186.6 606.3 186.1 603.8 187.1 601.6 C188.0 599.4 190.4 597.4 191.6 595.3 C192.7 593.1 194.0 590.9 194.0 588.5 C193.9 586.0 191.9 583.2 191.5 580.7 C191.1 578.2 191.2 575.8 191.5 573.5 C191.9 571.1 193.2 567.7 193.6 566.6 C194.0 565.5 193.8 565.4 194.1 566.7Z"/><path d="M312.3 808.3 C313.2 809.4 314.2 812.9 315.2 815.1 C316.2 817.4 317.0 819.7 318.4 821.9 C319.8 824.1 322.8 826.0 323.7 828.3 C324.5 830.6 324.2 833.0 323.5 835.5 C322.9 838.0 320.4 840.8 319.8 843.2 C319.3 845.7 320.1 848.0 320.1 850.4 C320.2 852.8 320.2 855.2 320.1 857.6 C320.0 860.0 319.7 863.6 319.4 864.9 C319.2 866.1 319.3 866.1 318.5 865.0 C317.7 863.9 315.4 860.6 314.8 858.3 C314.3 856.0 314.7 853.5 315.2 851.1 C315.7 848.6 317.8 845.9 317.9 843.5 C318.1 841.1 316.6 838.9 316.2 836.6 C315.7 834.2 315.1 831.9 315.1 829.5 C315.1 827.1 316.4 824.5 316.1 822.2 C315.7 819.8 314.0 817.7 312.9 815.4 C311.9 813.2 310.0 809.8 309.9 808.7 C309.8 807.5 311.5 807.3 312.3 808.3Z"/><path d="M104.6 888.6 C104.8 889.4 103.5 892.5 103.8 894.2 C104.2 896.0 105.4 897.5 106.7 899.0 C108.1 900.5 110.9 901.7 111.9 903.3 C112.9 904.9 112.3 906.8 112.8 908.5 C113.3 910.3 113.9 912.0 114.8 913.6 C115.7 915.2 118.0 916.5 118.2 918.2 C118.5 920.0 117.2 922.1 116.4 924.1 C115.6 926.2 114.0 929.2 113.5 930.3 C112.9 931.3 113.2 931.3 112.9 930.4 C112.7 929.5 112.4 926.9 112.1 925.1 C111.8 923.4 111.0 921.7 111.0 919.9 C111.0 918.1 112.5 915.9 112.1 914.2 C111.6 912.5 110.1 911.0 108.5 909.6 C106.9 908.1 103.5 907.0 102.5 905.5 C101.4 903.9 102.1 901.9 102.1 900.1 C102.1 898.3 102.5 896.3 102.6 894.5 C102.7 892.6 102.3 890.0 102.6 889.0 C102.9 888.0 104.4 887.7 104.6 888.6Z"/><path d="M181.5 943.3 C182.0 944.7 182.0 948.8 182.4 951.5 C182.8 954.3 182.9 957.0 183.9 959.8 C184.9 962.5 187.4 965.3 188.3 968.1 C189.2 970.8 189.6 973.6 189.1 976.3 C188.6 979.0 186.3 981.7 185.4 984.4 C184.6 987.1 184.4 989.8 183.8 992.5 C183.3 995.3 182.9 998.0 182.1 1000.7 C181.4 1003.4 180.0 1007.5 179.4 1008.8 C178.7 1010.2 178.6 1010.2 178.4 1008.8 C178.1 1007.4 177.3 1003.3 177.6 1000.6 C178.0 997.9 179.5 995.2 180.5 992.5 C181.5 989.7 183.3 987.1 183.6 984.3 C183.9 981.6 182.5 978.8 182.2 976.1 C181.9 973.4 181.8 970.6 181.8 967.9 C181.8 965.2 182.7 962.5 182.4 959.7 C182.1 957.0 180.5 954.2 180.0 951.5 C179.5 948.7 179.2 944.6 179.5 943.2 C179.7 941.9 181.0 941.9 181.5 943.3Z"/><path d="M82.0 516.9 C82.8 518.5 84.4 523.3 85.2 526.5 C85.9 529.7 86.0 532.9 86.5 536.1 C87.1 539.3 87.3 542.5 88.3 545.7 C89.3 548.9 92.0 552.0 92.4 555.2 C92.8 558.4 91.8 561.7 90.7 564.9 C89.7 568.1 86.9 571.4 85.9 574.6 C84.9 577.8 85.1 581.0 84.8 584.2 C84.4 587.4 84.3 592.2 83.7 593.8 C83.2 595.5 81.7 595.5 81.3 593.9 C80.9 592.3 81.0 587.5 81.5 584.3 C81.9 581.1 83.9 577.8 84.2 574.6 C84.5 571.4 83.5 568.2 83.3 565.0 C83.2 561.8 83.0 558.6 83.4 555.4 C83.7 552.2 85.7 548.9 85.7 545.7 C85.6 542.5 84.0 539.3 83.0 536.2 C82.0 533.0 80.1 529.8 79.7 526.6 C79.3 523.4 80.2 518.6 80.6 517.0 C81.0 515.3 81.2 515.3 82.0 516.9Z"/><path d="M95.0 717.5 C95.4 718.6 95.9 721.7 95.3 723.7 C94.7 725.7 92.1 727.6 91.4 729.6 C90.6 731.6 90.8 733.6 90.9 735.7 C90.9 737.8 92.1 739.9 91.6 741.9 C91.2 743.9 88.6 745.8 88.1 747.8 C87.6 749.8 87.8 751.9 88.4 754.0 C89.0 756.1 91.4 758.3 91.8 760.4 C92.2 762.5 91.3 765.5 90.8 766.5 C90.2 767.5 89.4 767.4 88.5 766.3 C87.7 765.2 86.4 762.0 85.9 759.9 C85.4 757.8 86.2 755.9 85.8 753.8 C85.3 751.7 84.3 749.5 83.3 747.4 C82.4 745.3 79.8 743.0 80.0 741.0 C80.2 738.9 82.8 737.1 84.4 735.2 C86.0 733.2 88.4 731.4 89.4 729.4 C90.4 727.4 89.7 725.3 90.2 723.3 C90.7 721.3 91.6 718.3 92.3 717.3 C93.1 716.4 94.5 716.5 95.0 717.5Z"/><path d="M126.7 898.6 C127.1 899.8 127.4 903.3 128.4 905.6 C129.4 908.0 131.7 910.4 132.5 912.8 C133.4 915.1 133.7 917.4 133.4 919.7 C133.1 922.0 131.4 924.2 131.0 926.5 C130.5 928.8 130.9 931.1 130.5 933.4 C130.1 935.7 129.4 937.9 128.3 940.2 C127.3 942.4 125.1 944.6 124.3 946.8 C123.5 949.1 123.9 952.6 123.6 953.7 C123.4 954.8 123.1 954.8 123.0 953.7 C122.8 952.5 122.8 949.1 122.7 946.8 C122.6 944.4 121.9 942.1 122.4 939.8 C122.9 937.6 124.4 935.3 125.6 933.1 C126.8 930.9 129.0 928.7 129.4 926.4 C129.8 924.1 128.5 921.8 128.1 919.4 C127.6 917.1 126.9 914.8 126.7 912.4 C126.6 910.1 127.2 907.9 127.1 905.6 C126.9 903.3 126.0 899.7 126.0 898.6 C125.9 897.4 126.3 897.5 126.7 898.6Z"/><path d="M179.2 793.8 C179.7 795.3 181.0 799.7 181.6 802.7 C182.2 805.6 183.0 808.6 182.9 811.4 C182.9 814.3 181.5 816.9 181.3 819.7 C181.1 822.6 182.2 825.6 182.0 828.4 C181.8 831.2 181.7 834.1 180.3 836.7 C179.0 839.3 175.5 841.6 173.8 844.2 C172.2 846.8 171.2 849.5 170.4 852.2 C169.7 855.0 170.0 859.3 169.5 860.6 C169.0 862.0 167.4 861.7 167.3 860.3 C167.2 858.9 168.1 854.7 168.7 852.0 C169.4 849.2 170.5 846.6 171.0 843.8 C171.5 841.0 170.8 838.1 171.7 835.3 C172.5 832.6 174.7 830.1 176.0 827.5 C177.3 824.8 179.3 822.3 179.5 819.5 C179.7 816.6 177.9 813.5 177.4 810.6 C177.0 807.7 176.6 804.8 176.8 801.9 C177.0 799.1 178.1 795.0 178.5 793.7 C178.9 792.3 178.7 792.3 179.2 793.8Z"/><path d="M420.2 825.3 C420.9 826.4 421.7 829.4 422.1 831.5 C422.6 833.5 422.2 835.5 423.0 837.6 C423.8 839.6 425.9 841.7 426.9 843.8 C427.8 845.8 429.1 847.9 428.6 849.9 C428.1 851.9 425.1 853.8 423.9 855.7 C422.6 857.7 421.6 859.7 421.0 861.7 C420.4 863.7 420.7 865.7 420.1 867.7 C419.6 869.7 418.5 872.6 417.8 873.6 C417.1 874.6 416.6 874.6 416.1 873.6 C415.7 872.5 414.6 869.5 415.0 867.5 C415.4 865.5 417.4 863.5 418.4 861.6 C419.3 859.6 420.4 857.6 420.6 855.6 C420.7 853.6 419.1 851.5 419.1 849.5 C419.2 847.5 420.3 845.5 420.7 843.5 C421.1 841.5 421.8 839.5 421.4 837.5 C421.0 835.5 418.9 833.3 418.3 831.3 C417.7 829.3 417.6 826.2 417.9 825.2 C418.3 824.3 419.5 824.3 420.2 825.3Z"/><path d="M270.6 606.0 C271.1 607.6 272.1 612.4 272.1 615.7 C272.2 618.9 271.2 622.2 271.0 625.5 C270.8 628.7 271.0 632.0 270.8 635.2 C270.7 638.5 270.5 641.8 269.9 645.0 C269.4 648.3 267.8 651.7 267.6 654.9 C267.5 658.2 268.3 661.4 269.1 664.6 C269.9 667.8 271.6 671.0 272.3 674.2 C273.1 677.5 273.6 682.3 273.7 684.0 C273.7 685.6 273.5 685.6 272.7 684.0 C271.9 682.4 270.0 677.6 269.1 674.4 C268.1 671.2 267.7 667.9 267.2 664.7 C266.6 661.5 266.3 658.2 265.8 655.0 C265.3 651.8 264.1 648.6 264.2 645.3 C264.4 642.0 265.7 638.7 266.6 635.4 C267.6 632.1 269.4 628.8 270.0 625.5 C270.6 622.2 270.1 619.0 270.0 615.8 C269.8 612.5 269.0 607.7 269.1 606.0 C269.2 604.4 270.1 604.4 270.6 606.0Z"/><path d="M189.6 857.5 C190.7 858.5 193.7 861.5 195.1 863.6 C196.5 865.8 197.4 868.0 198.2 870.3 C198.9 872.5 198.7 875.0 199.6 877.2 C200.5 879.5 203.0 881.4 203.6 883.7 C204.2 886.0 204.0 888.4 203.2 891.0 C202.5 893.5 199.8 896.5 199.2 899.0 C198.6 901.6 199.3 903.8 199.7 906.2 C200.0 908.5 201.6 911.8 201.5 913.1 C201.3 914.3 199.6 914.6 198.9 913.6 C198.1 912.5 197.2 909.1 196.9 906.7 C196.6 904.4 197.5 901.8 197.1 899.5 C196.7 897.1 194.9 895.1 194.6 892.7 C194.3 890.4 194.8 887.9 195.2 885.3 C195.7 882.8 197.7 880.0 197.4 877.7 C197.2 875.3 194.9 873.3 193.6 871.2 C192.3 869.0 190.3 867.0 189.5 864.8 C188.6 862.5 188.4 859.0 188.4 857.7 C188.4 856.5 188.5 856.5 189.6 857.5Z"/><path d="M129.5 829.4 C129.4 830.8 128.4 835.0 127.9 837.9 C127.4 840.7 127.4 843.6 126.5 846.3 C125.7 849.1 123.2 851.6 122.6 854.5 C122.1 857.3 122.5 860.2 123.2 863.2 C124.0 866.2 126.6 869.5 127.0 872.5 C127.3 875.4 126.1 878.1 125.3 880.9 C124.6 883.7 123.3 886.4 122.5 889.2 C121.6 891.9 120.9 896.2 120.3 897.5 C119.6 898.9 118.1 898.7 118.3 897.2 C118.5 895.8 121.0 891.8 121.3 889.0 C121.6 886.1 120.9 883.1 120.2 880.2 C119.6 877.2 117.6 874.0 117.4 871.1 C117.2 868.1 118.8 865.5 119.1 862.6 C119.5 859.8 119.6 856.9 119.6 854.0 C119.5 851.1 118.2 848.0 118.9 845.2 C119.6 842.4 122.0 839.9 123.7 837.3 C125.4 834.6 128.1 830.7 129.0 829.3 C130.0 828.0 129.7 828.0 129.5 829.4Z"/><path d="M277.5 701.9 C277.9 703.4 278.8 707.9 279.1 710.9 C279.4 713.9 280.1 716.9 279.5 719.9 C278.9 723.0 276.3 726.1 275.5 729.2 C274.7 732.2 274.3 735.3 274.7 738.3 C275.1 741.3 277.5 744.2 278.2 747.2 C278.8 750.2 278.4 753.2 278.6 756.3 C278.8 759.3 278.8 762.3 279.2 765.3 C279.6 768.3 281.2 772.8 281.2 774.3 C281.3 775.8 280.1 775.8 279.5 774.4 C279.0 772.9 279.2 768.3 278.1 765.4 C277.1 762.4 274.9 759.4 273.4 756.5 C272.0 753.5 269.7 750.6 269.4 747.6 C269.0 744.6 270.8 741.5 271.3 738.4 C271.8 735.4 272.2 732.4 272.3 729.3 C272.5 726.3 271.6 723.3 272.1 720.3 C272.7 717.2 274.7 714.1 275.5 711.1 C276.3 708.0 276.7 703.4 277.0 701.9 C277.4 700.4 277.2 700.4 277.5 701.9Z"/><path d="M429.2 807.5 C429.4 809.1 428.7 814.0 428.5 817.3 C428.3 820.6 428.0 823.9 428.2 827.1 C428.5 830.3 429.8 833.4 430.0 836.6 C430.2 839.9 429.4 843.2 429.5 846.5 C429.5 849.7 429.6 853.0 430.6 856.1 C431.7 859.2 434.6 862.1 435.8 865.2 C437.0 868.4 437.7 871.5 438.0 874.8 C438.3 878.0 437.7 882.9 437.6 884.6 C437.4 886.2 437.6 886.2 437.0 884.6 C436.4 883.1 435.1 878.3 434.0 875.2 C433.0 872.1 431.4 869.0 430.5 865.9 C429.7 862.7 429.9 859.4 428.9 856.3 C428.0 853.2 425.9 850.1 424.8 847.0 C423.7 843.9 422.2 840.8 422.3 837.6 C422.4 834.3 424.4 830.8 425.3 827.4 C426.1 824.1 426.9 820.7 427.3 817.5 C427.6 814.2 427.0 809.3 427.3 807.7 C427.7 806.0 429.0 805.9 429.2 807.5Z"/><path d="M384.4 931.8 C385.3 933.5 386.7 938.8 387.6 942.3 C388.5 945.8 388.8 949.4 389.7 952.9 C390.7 956.4 393.0 959.7 393.3 963.3 C393.6 966.9 392.6 970.6 391.8 974.3 C390.9 978.0 388.3 981.9 388.0 985.5 C387.7 989.2 389.2 992.6 389.9 996.1 C390.5 999.7 391.5 1003.2 392.1 1006.7 C392.6 1010.3 393.1 1015.6 393.1 1017.4 C393.2 1019.2 393.3 1019.2 392.2 1017.5 C391.1 1015.8 387.9 1010.8 386.7 1007.3 C385.4 1003.8 384.9 1000.3 384.8 996.7 C384.7 993.1 386.2 989.3 386.1 985.7 C386.0 982.1 384.5 978.7 384.2 975.1 C383.9 971.6 383.9 967.9 384.5 964.3 C385.0 960.6 387.2 956.8 387.4 953.1 C387.5 949.5 386.2 946.0 385.3 942.5 C384.4 939.0 382.0 933.9 381.9 932.1 C381.7 930.3 383.4 930.1 384.4 931.8Z"/><path d="M312.2 938.6 C312.2 939.7 310.9 942.8 310.0 944.8 C309.1 946.9 306.9 948.9 306.8 951.0 C306.6 953.1 308.2 955.3 308.9 957.4 C309.5 959.6 310.7 961.8 310.7 963.9 C310.8 966.0 309.1 968.0 309.2 970.2 C309.2 972.3 310.5 974.5 311.0 976.6 C311.5 978.8 312.5 981.0 312.1 983.0 C311.6 985.1 309.1 988.1 308.2 989.1 C307.4 990.1 307.0 990.1 306.7 989.0 C306.4 987.9 306.2 984.8 306.3 982.7 C306.5 980.5 307.4 978.5 307.4 976.4 C307.4 974.3 307.4 972.2 306.3 970.0 C305.3 967.8 302.0 965.4 301.1 963.3 C300.3 961.1 300.6 959.0 301.2 956.9 C301.9 954.9 304.2 952.9 305.0 950.8 C305.9 948.8 305.7 946.7 306.4 944.6 C307.2 942.5 308.6 939.5 309.6 938.5 C310.5 937.5 312.1 937.6 312.2 938.6Z"/><path d="M117.8 563.8 C118.0 565.5 118.4 570.6 117.8 574.0 C117.3 577.4 115.5 580.9 114.7 584.3 C114.0 587.7 113.3 591.1 113.5 594.5 C113.6 597.9 115.2 601.3 115.6 604.7 C116.0 608.1 115.6 611.5 115.8 614.9 C115.9 618.3 115.9 621.7 116.5 625.1 C117.1 628.5 119.0 631.8 119.4 635.2 C119.9 638.6 119.6 643.7 119.2 645.4 C118.9 647.1 118.0 647.1 117.5 645.5 C117.0 643.8 116.7 638.7 116.4 635.3 C116.0 631.9 116.2 628.5 115.3 625.1 C114.5 621.7 112.4 618.3 111.2 614.9 C110.1 611.6 108.4 608.2 108.3 604.8 C108.2 601.4 110.0 598.0 110.7 594.5 C111.5 591.1 112.3 587.7 112.8 584.3 C113.4 580.9 113.3 577.5 114.0 574.1 C114.6 570.7 115.8 565.6 116.5 563.8 C117.1 562.1 117.6 562.1 117.8 563.8Z"/><path d="M140.4 772.6 C141.1 773.9 141.7 777.9 142.8 780.5 C143.9 783.1 145.5 785.7 146.9 788.3 C148.4 790.8 151.2 793.3 151.6 796.0 C152.1 798.6 150.5 801.5 149.7 804.3 C148.9 807.1 147.2 810.0 146.9 812.8 C146.5 815.5 147.8 818.1 147.7 820.8 C147.6 823.6 146.7 826.4 146.4 829.1 C146.1 831.9 146.0 836.0 145.8 837.3 C145.6 838.7 145.9 838.7 145.2 837.4 C144.5 836.1 142.4 832.2 141.7 829.6 C141.0 826.9 140.5 824.2 141.0 821.5 C141.5 818.7 144.1 815.7 144.6 813.0 C145.2 810.2 144.7 807.5 144.3 804.8 C143.9 802.2 142.3 799.6 142.1 796.9 C141.9 794.2 143.2 791.3 143.1 788.6 C143.0 785.9 142.2 783.3 141.4 780.6 C140.5 778.0 138.3 774.1 138.2 772.8 C138.0 771.4 139.6 771.3 140.4 772.6Z"/><path d="M261.5 510.8 C261.9 512.0 261.0 515.6 261.0 518.0 C260.9 520.4 260.5 522.8 261.3 525.3 C262.1 527.9 264.8 530.7 265.7 533.2 C266.6 535.7 267.1 538.2 266.5 540.6 C266.0 543.0 263.4 545.1 262.4 547.4 C261.5 549.7 261.4 552.1 260.7 554.5 C260.1 556.8 259.4 559.2 258.2 561.5 C257.1 563.8 254.7 567.1 253.7 568.2 C252.8 569.3 252.7 569.3 252.5 568.1 C252.4 566.8 252.1 563.2 252.8 560.8 C253.5 558.5 255.5 556.3 256.7 554.0 C257.9 551.7 260.0 549.5 260.2 547.1 C260.5 544.7 258.6 542.0 258.2 539.6 C257.8 537.1 257.6 534.6 257.8 532.2 C258.0 529.8 259.4 527.5 259.4 525.1 C259.5 522.7 258.2 520.1 258.1 517.6 C258.1 515.2 258.5 511.6 259.1 510.5 C259.7 509.3 261.2 509.5 261.5 510.8Z"/><path d="M449.6 822.5 C449.5 824.1 448.1 829.0 447.9 832.3 C447.7 835.6 448.4 838.9 448.2 842.2 C448.0 845.5 447.3 848.8 446.6 852.1 C445.8 855.4 443.6 858.6 443.6 861.9 C443.6 865.2 445.7 868.6 446.8 871.9 C447.8 875.2 449.7 878.6 450.0 881.9 C450.2 885.2 448.9 888.5 448.5 891.8 C448.0 895.0 447.6 900.0 447.3 901.6 C447.0 903.3 446.8 903.3 446.6 901.6 C446.3 899.9 446.8 895.0 446.0 891.7 C445.3 888.4 442.7 885.0 441.9 881.7 C441.1 878.3 441.1 875.0 441.0 871.7 C441.0 868.4 441.8 865.2 441.4 861.9 C441.1 858.5 439.0 855.2 438.9 851.9 C438.8 848.6 439.7 845.3 440.9 842.0 C442.2 838.8 445.1 835.6 446.4 832.3 C447.6 829.0 447.9 824.1 448.5 822.4 C449.0 820.8 449.7 820.8 449.6 822.5Z"/><path d="M297.7 556.5 C298.4 557.7 300.3 561.5 301.2 564.0 C302.1 566.5 303.0 569.0 303.3 571.5 C303.5 574.0 302.7 576.5 302.7 579.0 C302.8 581.5 303.7 584.0 303.6 586.5 C303.6 589.0 303.2 591.4 302.2 593.9 C301.2 596.3 298.5 598.7 297.4 601.2 C296.4 603.7 296.0 606.1 295.9 608.6 C295.8 611.1 296.8 614.9 296.6 616.1 C296.4 617.3 295.1 617.3 294.8 616.0 C294.4 614.8 294.3 611.1 294.4 608.6 C294.5 606.1 295.2 603.6 295.4 601.1 C295.5 598.7 294.8 596.2 295.4 593.7 C295.9 591.2 297.5 588.8 298.5 586.3 C299.4 583.9 301.2 581.4 301.3 578.9 C301.4 576.5 299.8 573.9 299.1 571.4 C298.5 568.9 297.6 566.4 297.3 563.9 C296.9 561.4 297.0 557.7 297.1 556.4 C297.2 555.2 297.0 555.2 297.7 556.5Z"/><path d="M148.8 564.8 C148.4 565.7 146.6 568.6 146.1 570.6 C145.5 572.6 145.6 574.7 145.4 576.7 C145.2 578.7 145.0 580.7 144.8 582.7 C144.5 584.7 143.6 586.7 144.0 588.8 C144.3 590.8 145.9 593.0 146.7 595.1 C147.5 597.2 148.8 599.3 148.8 601.3 C148.9 603.4 147.7 605.3 147.0 607.3 C146.3 609.3 145.1 612.2 144.6 613.2 C144.2 614.2 144.1 614.2 144.2 613.2 C144.4 612.2 145.5 609.2 145.5 607.2 C145.5 605.1 144.3 603.0 144.0 601.0 C143.6 598.9 143.6 596.9 143.4 594.8 C143.2 592.8 143.2 590.7 142.6 588.6 C142.0 586.6 140.3 584.4 140.1 582.3 C139.8 580.3 140.3 578.3 141.2 576.3 C142.0 574.4 144.1 572.5 145.2 570.6 C146.3 568.6 147.4 565.7 148.0 564.7 C148.6 563.7 149.1 563.8 148.8 564.8Z"/><path d="M72.0 765.2 C71.8 766.5 69.0 770.3 68.3 772.9 C67.7 775.5 67.5 778.2 67.9 781.0 C68.3 783.7 70.4 786.7 70.5 789.4 C70.7 792.2 69.1 794.7 68.8 797.4 C68.5 800.0 68.2 802.7 68.7 805.5 C69.1 808.3 71.5 811.3 71.5 814.0 C71.4 816.7 69.9 819.2 68.5 821.7 C67.1 824.3 64.3 828.0 63.3 829.3 C62.3 830.5 62.6 830.5 62.6 829.2 C62.6 827.8 63.2 823.8 63.3 821.1 C63.4 818.4 63.0 815.7 63.4 813.0 C63.9 810.3 65.9 807.9 65.9 805.1 C65.8 802.4 64.3 799.5 63.2 796.7 C62.2 793.8 59.6 790.8 59.6 788.1 C59.5 785.4 61.8 782.9 63.0 780.4 C64.2 777.8 65.8 775.3 66.9 772.7 C67.9 770.1 68.7 766.2 69.6 764.9 C70.4 763.6 72.2 763.9 72.0 765.2Z"/><path d="M368.4 747.1 C368.3 748.4 367.8 752.2 367.5 754.7 C367.1 757.2 367.4 759.8 366.3 762.2 C365.3 764.6 362.2 766.6 361.0 769.0 C359.8 771.4 358.8 773.8 358.9 776.4 C359.1 779.0 361.6 782.0 362.0 784.6 C362.3 787.2 361.7 789.7 361.2 792.2 C360.8 794.7 359.8 797.1 359.4 799.6 C359.0 802.1 359.3 806.0 358.9 807.2 C358.5 808.5 357.3 808.2 357.2 806.9 C357.1 805.6 358.6 802.0 358.2 799.4 C357.9 796.8 356.0 793.9 355.1 791.2 C354.1 788.4 352.4 785.6 352.5 783.0 C352.5 780.4 354.8 778.3 355.6 775.8 C356.3 773.4 356.6 770.8 357.0 768.3 C357.4 765.8 356.9 763.2 358.0 760.8 C359.2 758.4 362.2 756.3 363.8 754.1 C365.4 751.8 367.1 748.2 367.8 747.0 C368.6 745.9 368.5 745.8 368.4 747.1Z"/><path d="M447.9 692.4 C448.2 694.1 448.9 699.1 448.9 702.5 C448.9 705.9 448.4 709.3 447.7 712.7 C447.1 716.2 444.9 719.7 445.2 723.0 C445.4 726.4 447.9 729.6 449.3 732.9 C450.7 736.2 452.9 739.5 453.5 742.8 C454.1 746.2 452.6 749.7 452.6 753.0 C452.6 756.4 453.4 759.8 453.6 763.1 C453.7 766.5 454.1 771.6 453.7 773.3 C453.2 775.0 451.3 775.1 450.9 773.5 C450.6 771.8 451.7 766.6 451.4 763.3 C451.2 759.9 450.7 756.5 449.3 753.2 C447.8 750.0 444.2 746.8 442.9 743.5 C441.6 740.2 441.7 736.8 441.7 733.4 C441.7 730.0 443.1 726.6 443.0 723.2 C442.9 719.8 441.1 716.5 441.1 713.1 C441.1 709.8 442.0 706.3 443.0 702.9 C444.0 699.4 446.2 694.2 447.0 692.5 C447.8 690.7 447.6 690.8 447.9 692.4Z"/><path d="M191.5 691.5 C192.3 692.4 193.5 695.2 194.3 697.1 C195.1 698.9 195.2 700.9 196.1 702.7 C197.0 704.6 199.0 706.4 199.6 708.3 C200.2 710.2 200.5 712.1 199.9 714.0 C199.2 716.0 196.6 718.1 195.6 720.1 C194.7 722.1 194.3 724.0 194.1 725.9 C193.9 727.9 194.4 729.8 194.3 731.7 C194.3 733.6 194.2 736.5 193.9 737.5 C193.7 738.5 193.5 738.5 192.8 737.6 C192.2 736.6 190.3 733.9 190.1 732.0 C189.8 730.1 190.9 728.1 191.4 726.1 C192.0 724.1 193.3 722.1 193.5 720.2 C193.7 718.3 192.6 716.4 192.7 714.5 C192.8 712.6 193.6 710.6 193.9 708.6 C194.3 706.7 195.2 704.7 194.8 702.8 C194.5 700.9 192.5 699.1 191.6 697.2 C190.8 695.4 189.6 692.6 189.6 691.6 C189.5 690.6 190.7 690.6 191.5 691.5Z"/><path d="M134.6 823.5 C134.6 824.4 133.0 827.0 132.1 828.7 C131.2 830.4 129.3 832.0 129.2 833.8 C129.2 835.6 131.2 837.6 131.9 839.5 C132.7 841.4 133.7 843.3 133.7 845.1 C133.7 846.9 132.0 848.5 132.0 850.3 C132.0 852.1 133.3 854.1 133.6 855.9 C134.0 857.8 134.6 859.6 133.9 861.4 C133.2 863.1 130.4 865.5 129.4 866.3 C128.4 867.1 128.2 867.1 128.0 866.2 C127.7 865.2 127.7 862.5 128.0 860.8 C128.3 859.0 129.4 857.3 129.6 855.5 C129.9 853.7 130.3 852.0 129.4 850.1 C128.5 848.2 125.2 846.0 124.2 844.1 C123.3 842.2 123.2 840.4 123.8 838.6 C124.3 836.9 126.5 835.3 127.4 833.6 C128.2 831.9 128.0 830.0 128.7 828.3 C129.5 826.6 130.9 824.0 131.9 823.2 C132.9 822.4 134.6 822.6 134.6 823.5Z"/><path d="M328.5 550.1 C329.0 551.2 330.8 554.6 331.3 556.7 C331.8 558.8 332.2 560.9 331.5 562.8 C330.7 564.8 327.9 566.4 326.9 568.3 C325.9 570.3 325.6 572.3 325.3 574.3 C324.9 576.3 325.5 578.4 324.8 580.3 C324.2 582.3 321.9 584.0 321.2 586.0 C320.5 587.9 320.5 590.0 320.7 592.1 C321.0 594.1 322.6 597.4 322.6 598.5 C322.5 599.5 321.0 599.3 320.4 598.2 C319.9 597.1 319.9 594.0 319.4 591.9 C318.9 589.8 318.1 587.6 317.5 585.5 C316.8 583.3 315.2 581.0 315.6 579.1 C316.1 577.1 318.6 575.4 320.1 573.5 C321.6 571.7 323.9 570.0 324.7 568.0 C325.5 566.1 324.6 563.9 325.0 561.9 C325.3 559.9 326.2 558.0 326.7 556.0 C327.2 554.1 327.6 551.0 327.9 550.1 C328.2 549.1 327.9 549.0 328.5 550.1Z"/><path d="M315.0 872.8 C315.5 874.2 316.5 878.5 317.3 881.3 C318.2 884.1 319.4 886.9 320.2 889.8 C321.0 892.6 321.0 895.5 322.0 898.3 C323.1 901.1 325.4 903.7 326.5 906.5 C327.7 909.3 329.1 912.0 329.2 915.0 C329.2 917.9 327.4 921.1 326.7 924.1 C326.0 927.1 325.4 930.1 325.0 933.1 C324.7 936.1 324.9 940.4 324.6 941.9 C324.2 943.4 323.0 943.6 322.9 942.2 C322.7 940.7 323.6 936.2 323.8 933.2 C324.1 930.3 324.6 927.3 324.4 924.4 C324.2 921.5 322.8 918.7 322.4 915.8 C322.0 913.0 322.3 910.0 322.1 907.1 C321.8 904.2 321.7 901.3 320.6 898.5 C319.6 895.7 316.9 893.1 315.7 890.3 C314.6 887.5 313.9 884.7 313.7 881.8 C313.5 878.9 314.2 874.4 314.5 872.9 C314.7 871.4 314.5 871.4 315.0 872.8Z"/><path d="M378.0 820.2 C378.5 821.8 378.1 827.0 379.0 830.3 C380.0 833.6 381.8 836.7 383.5 839.9 C385.2 843.1 388.0 846.2 389.0 849.4 C390.1 852.7 389.6 856.2 389.9 859.6 C390.1 862.9 390.3 866.3 390.7 869.7 C391.1 873.0 392.4 876.3 392.3 879.7 C392.2 883.1 390.7 886.7 390.1 890.2 C389.4 893.8 388.7 899.0 388.3 900.7 C387.9 902.5 388.1 902.5 387.9 900.8 C387.6 899.1 386.9 894.1 386.6 890.7 C386.4 887.3 385.9 884.0 386.2 880.5 C386.5 877.1 388.3 873.4 388.3 870.0 C388.4 866.6 387.6 863.3 386.4 860.0 C385.2 856.8 382.4 853.7 381.2 850.5 C380.1 847.2 380.1 843.8 379.5 840.5 C379.0 837.1 378.6 833.8 378.1 830.4 C377.6 827.1 376.4 822.1 376.4 820.4 C376.4 818.7 377.6 818.5 378.0 820.2Z"/></g>
</g>
<path d="M202.3 497.0 C211.8 493.8 223.5 493.0 230.2 494.0 C236.9 495.0 239.8 497.6 242.5 503.0 C245.2 508.4 245.6 509.7 246.5 526.5 C247.4 543.3 247.3 583.4 248.0 604.0 C248.7 624.6 249.4 634.0 250.5 650.0 C251.6 666.0 253.8 681.7 254.5 700.0 C255.2 718.3 254.9 740.8 255.0 760.0 C255.1 779.2 255.7 801.7 255.0 815.0 C254.3 828.3 251.8 826.0 251.0 840.0 C250.2 854.0 250.6 878.4 250.5 899.0 C250.4 919.6 250.9 948.2 250.5 963.6 C250.1 979.0 250.6 984.1 248.3 991.4 C246.0 998.7 241.3 1004.1 236.7 1007.6 C232.1 1011.1 230.1 1014.2 220.5 1012.3 C210.9 1010.4 190.8 1002.5 178.9 996.0 C167.0 989.5 158.5 981.5 148.8 973.0 C139.2 964.5 128.3 953.5 121.0 945.0 C113.7 936.5 107.5 928.9 104.8 922.0 C102.1 915.1 108.6 912.0 104.8 903.5 C101.0 895.0 88.7 883.4 81.7 871.0 C74.8 858.6 67.3 840.2 63.1 829.4 C58.9 818.6 57.6 813.7 56.2 806.0 C54.8 798.3 54.6 789.5 54.5 783.0 C54.4 776.5 54.6 774.5 55.4 766.7 C56.2 758.9 57.9 744.1 59.2 736.0 C60.5 727.9 61.6 723.5 63.1 718.0 C64.6 712.5 66.9 708.2 68.2 702.7 C69.5 697.2 69.0 689.4 70.7 684.7 C72.4 680.0 74.5 677.5 78.4 674.5 C82.3 671.5 92.7 670.4 94.0 667.0 C95.3 663.6 87.0 659.6 86.1 654.0 C85.2 648.4 87.4 640.3 88.7 633.5 C90.0 626.7 92.1 619.8 93.8 613.0 C95.5 606.2 95.9 597.6 98.9 592.5 C101.9 587.4 107.9 586.5 111.7 582.2 C115.5 577.9 119.0 574.6 122.0 566.9 C125.0 559.2 126.3 542.9 129.7 536.1 C133.1 529.3 135.2 529.8 142.5 525.9 C149.8 522.0 163.2 517.8 173.2 513.0 C183.2 508.2 192.8 500.2 202.3 497.0Z" fill="none" stroke="#bcbcbc" stroke-width="2.2" stroke-opacity="0.9"/>
<path d="M202.3 497.0 C211.8 493.8 223.5 493.0 230.2 494.0 C236.9 495.0 239.8 497.6 242.5 503.0 C245.2 508.4 245.6 509.7 246.5 526.5 C247.4 543.3 247.3 583.4 248.0 604.0 C248.7 624.6 249.4 634.0 250.5 650.0 C251.6 666.0 253.8 681.7 254.5 700.0 C255.2 718.3 254.9 740.8 255.0 760.0 C255.1 779.2 255.7 801.7 255.0 815.0 C254.3 828.3 251.8 826.0 251.0 840.0 C250.2 854.0 250.6 878.4 250.5 899.0 C250.4 919.6 250.9 948.2 250.5 963.6 C250.1 979.0 250.6 984.1 248.3 991.4 C246.0 998.7 241.3 1004.1 236.7 1007.6 C232.1 1011.1 230.1 1014.2 220.5 1012.3 C210.9 1010.4 190.8 1002.5 178.9 996.0 C167.0 989.5 158.5 981.5 148.8 973.0 C139.2 964.5 128.3 953.5 121.0 945.0 C113.7 936.5 107.5 928.9 104.8 922.0 C102.1 915.1 108.6 912.0 104.8 903.5 C101.0 895.0 88.7 883.4 81.7 871.0 C74.8 858.6 67.3 840.2 63.1 829.4 C58.9 818.6 57.6 813.7 56.2 806.0 C54.8 798.3 54.6 789.5 54.5 783.0 C54.4 776.5 54.6 774.5 55.4 766.7 C56.2 758.9 57.9 744.1 59.2 736.0 C60.5 727.9 61.6 723.5 63.1 718.0 C64.6 712.5 66.9 708.2 68.2 702.7 C69.5 697.2 69.0 689.4 70.7 684.7 C72.4 680.0 74.5 677.5 78.4 674.5 C82.3 671.5 92.7 670.4 94.0 667.0 C95.3 663.6 87.0 659.6 86.1 654.0 C85.2 648.4 87.4 640.3 88.7 633.5 C90.0 626.7 92.1 619.8 93.8 613.0 C95.5 606.2 95.9 597.6 98.9 592.5 C101.9 587.4 107.9 586.5 111.7 582.2 C115.5 577.9 119.0 574.6 122.0 566.9 C125.0 559.2 126.3 542.9 129.7 536.1 C133.1 529.3 135.2 529.8 142.5 525.9 C149.8 522.0 163.2 517.8 173.2 513.0 C183.2 508.2 192.8 500.2 202.3 497.0Z" fill="none" stroke="#c8c8c8" stroke-width="8" stroke-opacity="0.35" clip-path="url(#brainclip)" filter="url(#blur1)"/>
<path d="M268.9 517.2 C270.8 510.3 271.2 502.5 276.6 498.6 C282.0 494.7 292.5 492.9 301.4 494.0 C310.3 495.1 322.7 502.2 330.0 505.4 C337.3 508.6 339.4 510.0 345.4 513.0 C351.4 516.0 359.9 519.0 365.9 523.3 C371.9 527.6 376.9 533.2 381.2 538.7 C385.5 544.2 388.5 550.2 391.5 556.6 C394.5 563.0 395.8 571.1 399.2 577.1 C402.6 583.1 409.0 587.0 412.0 592.5 C415.0 598.0 415.0 604.0 417.1 610.4 C419.2 616.8 423.1 624.5 424.8 630.9 C426.5 637.3 427.2 642.9 427.4 648.9 C427.6 654.9 424.7 663.0 426.0 666.8 C427.3 670.6 432.2 668.9 435.0 671.9 C437.8 674.9 441.3 679.2 442.7 684.7 C444.1 690.2 442.2 698.4 443.5 705.2 C444.8 712.0 448.4 718.9 450.4 725.7 C452.4 732.5 454.2 738.5 455.5 746.2 C456.8 753.9 457.3 763.7 458.1 771.8 C458.9 779.9 460.7 787.3 460.5 795.0 C460.3 802.7 458.4 811.0 456.7 817.9 C455.0 824.8 451.5 831.0 450.5 836.4 C449.5 841.8 451.4 843.5 450.5 850.0 C449.6 856.5 449.9 868.3 445.1 875.7 C440.4 883.1 428.0 888.0 422.0 894.2 C416.0 900.4 411.4 907.3 409.0 912.7 C406.6 918.1 409.2 921.2 407.5 926.6 C405.8 932.0 405.0 939.3 398.9 945.1 C392.8 950.9 379.6 956.3 371.1 961.3 C362.6 966.3 354.9 970.2 348.0 975.2 C341.1 980.2 335.2 986.4 329.4 991.4 C323.6 996.4 319.0 1001.8 313.2 1005.3 C307.4 1008.8 300.5 1011.9 294.7 1012.3 C288.9 1012.7 283.1 1011.1 278.5 1007.6 C273.9 1004.1 269.4 998.0 266.9 991.4 C264.4 984.8 264.0 979.9 263.5 968.3 C263.0 956.7 263.9 943.4 264.0 922.0 C264.1 900.6 264.5 857.8 264.0 840.0 C263.5 822.2 261.6 838.3 261.0 815.0 C260.4 791.7 260.4 727.5 260.5 700.0 C260.6 672.5 261.2 666.0 261.5 650.0 C261.8 634.0 261.9 622.3 262.5 604.0 C263.1 585.7 263.9 554.5 265.0 540.0 C266.1 525.5 267.0 524.1 268.9 517.2Z" fill="none" stroke="#bcbcbc" stroke-width="2.2" stroke-opacity="0.9"/>
<path d="M268.9 517.2 C270.8 510.3 271.2 502.5 276.6 498.6 C282.0 494.7 292.5 492.9 301.4 494.0 C310.3 495.1 322.7 502.2 330.0 505.4 C337.3 508.6 339.4 510.0 345.4 513.0 C351.4 516.0 359.9 519.0 365.9 523.3 C371.9 527.6 376.9 533.2 381.2 538.7 C385.5 544.2 388.5 550.2 391.5 556.6 C394.5 563.0 395.8 571.1 399.2 577.1 C402.6 583.1 409.0 587.0 412.0 592.5 C415.0 598.0 415.0 604.0 417.1 610.4 C419.2 616.8 423.1 624.5 424.8 630.9 C426.5 637.3 427.2 642.9 427.4 648.9 C427.6 654.9 424.7 663.0 426.0 666.8 C427.3 670.6 432.2 668.9 435.0 671.9 C437.8 674.9 441.3 679.2 442.7 684.7 C444.1 690.2 442.2 698.4 443.5 705.2 C444.8 712.0 448.4 718.9 450.4 725.7 C452.4 732.5 454.2 738.5 455.5 746.2 C456.8 753.9 457.3 763.7 458.1 771.8 C458.9 779.9 460.7 787.3 460.5 795.0 C460.3 802.7 458.4 811.0 456.7 817.9 C455.0 824.8 451.5 831.0 450.5 836.4 C449.5 841.8 451.4 843.5 450.5 850.0 C449.6 856.5 449.9 868.3 445.1 875.7 C440.4 883.1 428.0 888.0 422.0 894.2 C416.0 900.4 411.4 907.3 409.0 912.7 C406.6 918.1 409.2 921.2 407.5 926.6 C405.8 932.0 405.0 939.3 398.9 945.1 C392.8 950.9 379.6 956.3 371.1 961.3 C362.6 966.3 354.9 970.2 348.0 975.2 C341.1 980.2 335.2 986.4 329.4 991.4 C323.6 996.4 319.0 1001.8 313.2 1005.3 C307.4 1008.8 300.5 1011.9 294.7 1012.3 C288.9 1012.7 283.1 1011.1 278.5 1007.6 C273.9 1004.1 269.4 998.0 266.9 991.4 C264.4 984.8 264.0 979.9 263.5 968.3 C263.0 956.7 263.9 943.4 264.0 922.0 C264.1 900.6 264.5 857.8 264.0 840.0 C263.5 822.2 261.6 838.3 261.0 815.0 C260.4 791.7 260.4 727.5 260.5 700.0 C260.6 672.5 261.2 666.0 261.5 650.0 C261.8 634.0 261.9 622.3 262.5 604.0 C263.1 585.7 263.9 554.5 265.0 540.0 C266.1 525.5 267.0 524.1 268.9 517.2Z" fill="none" stroke="#c8c8c8" stroke-width="8" stroke-opacity="0.35" clip-path="url(#brainclip)" filter="url(#blur1)"/>
<path d="M249 662 L254 700 V822 M264 662 L261 700 V822" stroke="#d0d0d0" stroke-width="1.2" fill="none"/>
<path d="M245 596 L236 868" stroke="#bfa6b6" stroke-width="8" stroke-opacity="0.8" fill="none"/>
<path d="M236 868 L236 936.5" stroke="#d0a4bc" stroke-width="6.5" stroke-opacity="0.85" fill="none"/>
<path d="M285 550.5 L403 654" stroke="#d6a8c2" stroke-width="7.5" stroke-opacity="1" fill="none"/>
<path d="M282.6 700.4 L373.7 682.3" stroke="#dca6c8" stroke-width="7" stroke-opacity="1" fill="none"/>
<path d="M403 654 L413.5 720.5" stroke="#dca6c8" stroke-width="7" stroke-opacity="1" fill="none"/>
<path d="M236 868 L380.5 777" stroke="#dca6c8" stroke-width="7" stroke-opacity="1" fill="none"/>
<path d="M380.5 777 L395 839" stroke="#d8a0c4" stroke-width="7" stroke-opacity="1" fill="none"/>
<circle cx="285" cy="550.5" r="23" fill="url(#cyan)" opacity="1"/>
<circle cx="245" cy="596" r="23" fill="url(#cyan)" opacity="0.92"/>
<circle cx="236" cy="868" r="23.2" fill="url(#cyan)" opacity="1"/>
<circle cx="236" cy="936.5" r="23" fill="url(#grn)" opacity="0.95"/>
<circle cx="282.6" cy="700.4" r="22.8" fill="url(#red)" opacity="1"/>
<circle cx="403" cy="654" r="21.8" fill="url(#red)" opacity="0.82"/>
<circle cx="373.7" cy="682.3" r="23" fill="url(#redp)" opacity="0.88"/>
<circle cx="413.5" cy="720.5" r="22.5" fill="url(#red)" opacity="1"/>
<circle cx="432" cy="765.5" r="22.5" fill="url(#redp)" opacity="0.88"/>
<circle cx="380.5" cy="777" r="23.2" fill="url(#red)" opacity="1"/>
<circle cx="395" cy="839" r="22.6" fill="url(#purp)" opacity="1"/>
<g font-family="Liberation Serif" font-size="21" fill="#141414"><text x="238" y="558" fill-opacity="0.9">SFGmed.R</text><text x="214.7" y="604" fill-opacity="0.75">ACG.L</text><text x="357.2" y="666" fill-opacity="0.7">TPOsup.R</text><text x="348" y="690.6" fill-opacity="0.6">INS.R</text><text x="250.6" y="709" fill-opacity="0.9">SMA.R</text><text x="384.8" y="730" fill-opacity="0.7">ROL.R</text><text x="401" y="773.9" fill-opacity="0.65">STG.R</text><text x="346.4" y="785.5" fill-opacity="0.9">PoCG.R</text><text x="371" y="848" fill-opacity="0.9">IPL.R</text><text x="199.7" y="880.3" fill-opacity="0.8">PCUN.L</text><text x="204.3" y="945.1" fill-opacity="0.7">CAL.L</text></g>
</svg>
<svg style="left:0;top:0" width="1194" height="1210" viewBox="0 0 1194 1210">
<g fill="#6495ed">
<circle cx="636.6" cy="475.7" r="4.4"/>
<circle cx="726.0" cy="475.7" r="4.4"/>
<circle cx="618.7" cy="493.7" r="4.4"/>
<circle cx="636.6" cy="493.7" r="4.4"/>
<circle cx="726.0" cy="493.7" r="4.4"/>
<circle cx="699.1" cy="511.7" r="4.4"/>
<circle cx="636.6" cy="529.7" r="4.4"/>
<circle cx="591.9" cy="538.7" r="4.4"/>
<circle cx="600.8" cy="547.7" r="4.4"/>
<circle cx="591.9" cy="556.8" r="4.4"/>
<circle cx="627.6" cy="556.8" r="4.4"/>
<circle cx="654.4" cy="565.8" r="4.4"/>
<circle cx="627.6" cy="574.8" r="4.4"/>
<circle cx="618.7" cy="583.8" r="4.4"/>
<circle cx="636.6" cy="583.8" r="4.4"/>
<circle cx="600.8" cy="592.8" r="4.4"/>
<circle cx="636.6" cy="592.8" r="4.4"/>
<circle cx="717.0" cy="592.8" r="4.4"/>
<circle cx="743.8" cy="592.8" r="4.4"/>
<circle cx="600.8" cy="601.8" r="4.4"/>
<circle cx="663.4" cy="601.8" r="4.4"/>
<circle cx="717.0" cy="601.8" r="4.4"/>
<circle cx="743.8" cy="601.8" r="4.4"/>
<circle cx="609.7" cy="610.8" r="4.4"/>
<circle cx="618.7" cy="610.8" r="4.4"/>
<circle cx="636.6" cy="610.8" r="4.4"/>
<circle cx="663.4" cy="610.8" r="4.4"/>
<circle cx="699.1" cy="610.8" r="4.4"/>
<circle cx="600.8" cy="619.8" r="4.4"/>
<circle cx="627.6" cy="619.8" r="4.4"/>
<circle cx="636.6" cy="619.8" r="4.4"/>
<circle cx="708.1" cy="619.8" r="4.4"/>
<circle cx="600.8" cy="628.8" r="4.4"/>
<circle cx="627.6" cy="628.8" r="4.4"/>
<circle cx="609.7" cy="637.8" r="4.4"/>
<circle cx="645.5" cy="637.8" r="4.4"/>
<circle cx="663.4" cy="637.8" r="4.4"/>
<circle cx="770.7" cy="475.7" r="4.4"/>
<circle cx="788.5" cy="529.7" r="4.4"/>
<circle cx="788.5" cy="574.8" r="4.4"/>
<circle cx="815.4" cy="583.8" r="4.4"/>
<circle cx="788.5" cy="592.8" r="4.4"/>
<circle cx="833.2" cy="610.8" r="4.4"/>
<circle cx="877.9" cy="610.8" r="4.4"/>
<circle cx="815.4" cy="637.8" r="4.4"/>
<circle cx="860.1" cy="637.8" r="4.4"/>
<circle cx="869.0" cy="637.8" r="4.4"/>
<circle cx="1003.1" cy="493.7" r="4.4"/>
<circle cx="1092.5" cy="556.8" r="4.4"/>
<circle cx="949.5" cy="565.8" r="4.4"/>
<circle cx="1038.9" cy="574.8" r="4.4"/>
<circle cx="949.5" cy="610.8" r="4.4"/>
<circle cx="1038.9" cy="619.8" r="4.4"/>
<circle cx="958.4" cy="637.8" r="4.4"/>
<circle cx="1092.5" cy="637.8" r="4.4"/>
<circle cx="627.6" cy="646.8" r="4.4"/>
<circle cx="708.1" cy="646.8" r="4.4"/>
<circle cx="600.8" cy="655.8" r="4.4"/>
<circle cx="618.7" cy="655.8" r="4.4"/>
<circle cx="627.6" cy="655.8" r="4.4"/>
<circle cx="645.5" cy="655.8" r="4.4"/>
<circle cx="663.4" cy="655.8" r="4.4"/>
<circle cx="690.2" cy="655.8" r="4.4"/>
<circle cx="734.9" cy="655.8" r="4.4"/>
<circle cx="618.7" cy="664.9" r="4.4"/>
<circle cx="636.6" cy="664.9" r="4.4"/>
<circle cx="636.6" cy="673.9" r="4.4"/>
<circle cx="645.5" cy="673.9" r="4.4"/>
<circle cx="663.4" cy="673.9" r="4.4"/>
<circle cx="708.1" cy="673.9" r="4.4"/>
<circle cx="734.9" cy="673.9" r="4.4"/>
<circle cx="609.7" cy="682.9" r="4.4"/>
<circle cx="618.7" cy="682.9" r="4.4"/>
<circle cx="636.6" cy="682.9" r="4.4"/>
<circle cx="645.5" cy="682.9" r="4.4"/>
<circle cx="734.9" cy="682.9" r="4.4"/>
<circle cx="752.8" cy="682.9" r="4.4"/>
<circle cx="600.8" cy="691.9" r="4.4"/>
<circle cx="627.6" cy="691.9" r="4.4"/>
<circle cx="708.1" cy="691.9" r="4.4"/>
<circle cx="600.8" cy="700.9" r="4.4"/>
<circle cx="618.7" cy="700.9" r="4.4"/>
<circle cx="699.1" cy="700.9" r="4.4"/>
<circle cx="600.8" cy="709.9" r="4.4"/>
<circle cx="618.7" cy="709.9" r="4.4"/>
<circle cx="627.6" cy="709.9" r="4.4"/>
<circle cx="672.3" cy="709.9" r="4.4"/>
<circle cx="699.1" cy="709.9" r="4.4"/>
<circle cx="618.7" cy="718.9" r="4.4"/>
<circle cx="636.6" cy="718.9" r="4.4"/>
<circle cx="645.5" cy="718.9" r="4.4"/>
<circle cx="726.0" cy="718.9" r="4.4"/>
<circle cx="743.8" cy="718.9" r="4.4"/>
<circle cx="761.7" cy="718.9" r="4.4"/>
<circle cx="636.6" cy="727.9" r="4.4"/>
<circle cx="663.4" cy="727.9" r="4.4"/>
<circle cx="752.8" cy="727.9" r="4.4"/>
<circle cx="690.2" cy="736.9" r="4.4"/>
<circle cx="672.3" cy="745.9" r="4.4"/>
<circle cx="734.9" cy="745.9" r="4.4"/>
<circle cx="618.7" cy="754.9" r="4.4"/>
<circle cx="645.5" cy="754.9" r="4.4"/>
<circle cx="743.8" cy="754.9" r="4.4"/>
<circle cx="761.7" cy="754.9" r="4.4"/>
<circle cx="636.6" cy="763.9" r="4.4"/>
<circle cx="654.4" cy="763.9" r="4.4"/>
<circle cx="681.3" cy="763.9" r="4.4"/>
<circle cx="752.8" cy="763.9" r="4.4"/>
<circle cx="627.6" cy="772.9" r="4.4"/>
<circle cx="717.0" cy="772.9" r="4.4"/>
<circle cx="761.7" cy="772.9" r="4.4"/>
<circle cx="618.7" cy="782.0" r="4.4"/>
<circle cx="717.0" cy="782.0" r="4.4"/>
<circle cx="743.8" cy="782.0" r="4.4"/>
<circle cx="609.7" cy="791.0" r="4.4"/>
<circle cx="627.6" cy="791.0" r="4.4"/>
<circle cx="654.4" cy="791.0" r="4.4"/>
<circle cx="627.6" cy="800.0" r="4.4"/>
<circle cx="636.6" cy="800.0" r="4.4"/>
<circle cx="681.3" cy="800.0" r="4.4"/>
<circle cx="618.7" cy="809.0" r="4.4"/>
<circle cx="743.8" cy="809.0" r="4.4"/>
<circle cx="591.9" cy="818.0" r="4.4"/>
<circle cx="726.0" cy="818.0" r="4.4"/>
<circle cx="779.6" cy="646.8" r="4.4"/>
<circle cx="869.0" cy="655.8" r="4.4"/>
<circle cx="895.8" cy="664.9" r="4.4"/>
<circle cx="833.2" cy="673.9" r="4.4"/>
<circle cx="815.4" cy="682.9" r="4.4"/>
<circle cx="860.1" cy="682.9" r="4.4"/>
<circle cx="788.5" cy="691.9" r="4.4"/>
<circle cx="788.5" cy="700.9" r="4.4"/>
<circle cx="806.4" cy="700.9" r="4.4"/>
<circle cx="895.8" cy="700.9" r="4.4"/>
<circle cx="833.2" cy="709.9" r="4.4"/>
<circle cx="895.8" cy="709.9" r="4.4"/>
<circle cx="770.7" cy="718.9" r="4.4"/>
<circle cx="788.5" cy="718.9" r="4.4"/>
<circle cx="797.5" cy="718.9" r="4.4"/>
<circle cx="842.2" cy="718.9" r="4.4"/>
<circle cx="860.1" cy="718.9" r="4.4"/>
<circle cx="922.6" cy="718.9" r="4.4"/>
<circle cx="779.6" cy="727.9" r="4.4"/>
<circle cx="797.5" cy="727.9" r="4.4"/>
<circle cx="833.2" cy="727.9" r="4.4"/>
<circle cx="833.2" cy="736.9" r="4.4"/>
<circle cx="851.1" cy="736.9" r="4.4"/>
<circle cx="779.6" cy="745.9" r="4.4"/>
<circle cx="815.4" cy="745.9" r="4.4"/>
<circle cx="833.2" cy="745.9" r="4.4"/>
<circle cx="886.9" cy="745.9" r="4.4"/>
<circle cx="770.7" cy="754.9" r="4.4"/>
<circle cx="940.5" cy="754.9" r="4.4"/>
<circle cx="842.2" cy="763.9" r="4.4"/>
<circle cx="788.5" cy="772.9" r="4.4"/>
<circle cx="779.6" cy="782.0" r="4.4"/>
<circle cx="815.4" cy="782.0" r="4.4"/>
<circle cx="833.2" cy="782.0" r="4.4"/>
<circle cx="877.9" cy="782.0" r="4.4"/>
<circle cx="931.6" cy="782.0" r="4.4"/>
<circle cx="869.0" cy="791.0" r="4.4"/>
<circle cx="877.9" cy="800.0" r="4.4"/>
<circle cx="913.7" cy="800.0" r="4.4"/>
<circle cx="797.5" cy="809.0" r="4.4"/>
<circle cx="815.4" cy="809.0" r="4.4"/>
<circle cx="824.3" cy="809.0" r="4.4"/>
<circle cx="895.8" cy="809.0" r="4.4"/>
<circle cx="779.6" cy="818.0" r="4.4"/>
<circle cx="922.6" cy="818.0" r="4.4"/>
<circle cx="976.3" cy="664.9" r="4.4"/>
<circle cx="994.2" cy="664.9" r="4.4"/>
<circle cx="985.2" cy="673.9" r="4.4"/>
<circle cx="1038.9" cy="673.9" r="4.4"/>
<circle cx="1083.6" cy="673.9" r="4.4"/>
<circle cx="1029.9" cy="682.9" r="4.4"/>
<circle cx="1065.7" cy="682.9" r="4.4"/>
<circle cx="949.5" cy="691.9" r="4.4"/>
<circle cx="1012.0" cy="691.9" r="4.4"/>
<circle cx="1047.8" cy="691.9" r="4.4"/>
<circle cx="1074.6" cy="691.9" r="4.4"/>
<circle cx="976.3" cy="700.9" r="4.4"/>
<circle cx="1003.1" cy="700.9" r="4.4"/>
<circle cx="1047.8" cy="700.9" r="4.4"/>
<circle cx="976.3" cy="709.9" r="4.4"/>
<circle cx="1012.0" cy="718.9" r="4.4"/>
<circle cx="1047.8" cy="718.9" r="4.4"/>
<circle cx="1101.4" cy="718.9" r="4.4"/>
<circle cx="1110.4" cy="718.9" r="4.4"/>
<circle cx="967.3" cy="727.9" r="4.4"/>
<circle cx="976.3" cy="727.9" r="4.4"/>
<circle cx="1047.8" cy="727.9" r="4.4"/>
<circle cx="949.5" cy="736.9" r="4.4"/>
<circle cx="994.2" cy="736.9" r="4.4"/>
<circle cx="1021.0" cy="745.9" r="4.4"/>
<circle cx="958.4" cy="754.9" r="4.4"/>
<circle cx="1074.6" cy="754.9" r="4.4"/>
<circle cx="976.3" cy="763.9" r="4.4"/>
<circle cx="1003.1" cy="763.9" r="4.4"/>
<circle cx="1012.0" cy="763.9" r="4.4"/>
<circle cx="1021.0" cy="763.9" r="4.4"/>
<circle cx="1047.8" cy="763.9" r="4.4"/>
<circle cx="1092.5" cy="763.9" r="4.4"/>
<circle cx="949.5" cy="772.9" r="4.4"/>
<circle cx="976.3" cy="772.9" r="4.4"/>
<circle cx="994.2" cy="772.9" r="4.4"/>
<circle cx="1065.7" cy="772.9" r="4.4"/>
<circle cx="949.5" cy="782.0" r="4.4"/>
<circle cx="994.2" cy="782.0" r="4.4"/>
<circle cx="1065.7" cy="782.0" r="4.4"/>
<circle cx="1101.4" cy="782.0" r="4.4"/>
<circle cx="949.5" cy="791.0" r="4.4"/>
<circle cx="985.2" cy="791.0" r="4.4"/>
<circle cx="1021.0" cy="791.0" r="4.4"/>
<circle cx="1047.8" cy="791.0" r="4.4"/>
<circle cx="1065.7" cy="800.0" r="4.4"/>
<circle cx="958.4" cy="809.0" r="4.4"/>
<circle cx="985.2" cy="809.0" r="4.4"/>
<circle cx="1003.1" cy="809.0" r="4.4"/>
<circle cx="1029.9" cy="809.0" r="4.4"/>
<circle cx="1047.8" cy="809.0" r="4.4"/>
<circle cx="1065.7" cy="809.0" r="4.4"/>
<circle cx="1119.3" cy="809.0" r="4.4"/>
<circle cx="1029.9" cy="818.0" r="4.4"/>
<circle cx="663.4" cy="827.0" r="4.4"/>
<circle cx="690.2" cy="827.0" r="4.4"/>
<circle cx="636.6" cy="836.0" r="4.4"/>
<circle cx="717.0" cy="845.0" r="4.4"/>
<circle cx="726.0" cy="845.0" r="4.4"/>
<circle cx="726.0" cy="854.0" r="4.4"/>
<circle cx="761.7" cy="854.0" r="4.4"/>
<circle cx="654.4" cy="863.0" r="4.4"/>
<circle cx="743.8" cy="863.0" r="4.4"/>
<circle cx="645.5" cy="872.0" r="4.4"/>
<circle cx="690.2" cy="881.0" r="4.4"/>
<circle cx="734.9" cy="881.0" r="4.4"/>
<circle cx="699.1" cy="890.1" r="4.4"/>
<circle cx="734.9" cy="926.1" r="4.4"/>
<circle cx="734.9" cy="935.1" r="4.4"/>
<circle cx="752.8" cy="935.1" r="4.4"/>
<circle cx="600.8" cy="935.1" r="4.4"/>
<circle cx="645.5" cy="953.1" r="4.4"/>
<circle cx="681.3" cy="1007.2" r="4.4"/>
<circle cx="815.4" cy="827.0" r="4.4"/>
<circle cx="869.0" cy="827.0" r="4.4"/>
<circle cx="886.9" cy="827.0" r="4.4"/>
<circle cx="904.8" cy="827.0" r="4.4"/>
<circle cx="770.7" cy="836.0" r="4.4"/>
<circle cx="779.6" cy="836.0" r="4.4"/>
<circle cx="806.4" cy="836.0" r="4.4"/>
<circle cx="886.9" cy="836.0" r="4.4"/>
<circle cx="770.7" cy="845.0" r="4.4"/>
<circle cx="779.6" cy="845.0" r="4.4"/>
<circle cx="797.5" cy="872.0" r="4.4"/>
<circle cx="940.5" cy="881.0" r="4.4"/>
<circle cx="922.6" cy="890.1" r="4.4"/>
<circle cx="770.7" cy="899.1" r="4.4"/>
<circle cx="833.2" cy="917.1" r="4.4"/>
<circle cx="779.6" cy="926.1" r="4.4"/>
<circle cx="806.4" cy="935.1" r="4.4"/>
<circle cx="886.9" cy="935.1" r="4.4"/>
<circle cx="815.4" cy="971.1" r="4.4"/>
<circle cx="967.3" cy="827.0" r="4.4"/>
<circle cx="985.2" cy="827.0" r="4.4"/>
<circle cx="1021.0" cy="827.0" r="4.4"/>
<circle cx="1047.8" cy="827.0" r="4.4"/>
<circle cx="1012.0" cy="836.0" r="4.4"/>
<circle cx="967.3" cy="845.0" r="4.4"/>
<circle cx="1038.9" cy="845.0" r="4.4"/>
<circle cx="1101.4" cy="845.0" r="4.4"/>
<circle cx="949.5" cy="854.0" r="4.4"/>
<circle cx="1012.0" cy="854.0" r="4.4"/>
<circle cx="1029.9" cy="863.0" r="4.4"/>
<circle cx="1038.9" cy="890.1" r="4.4"/>
<circle cx="949.5" cy="899.1" r="4.4"/>
<circle cx="967.3" cy="899.1" r="4.4"/>
<circle cx="1021.0" cy="899.1" r="4.4"/>
<circle cx="985.2" cy="935.1" r="4.4"/>
<circle cx="949.5" cy="962.1" r="4.4"/>
</g>
<polygon points="591.9,633.8 598.5,639.7 605.2,645.4 611.9,651.0 618.6,656.3 625.2,661.5 631.9,666.5 638.6,671.3 645.3,675.9 652.0,680.3 658.6,684.6 665.3,688.6 672.0,692.4 678.7,695.9 685.3,699.3 692.0,702.6 698.7,705.6 705.4,708.5 712.0,711.2 718.7,713.7 725.4,716.1 732.1,718.4 738.7,720.6 745.4,722.7 752.1,724.7 758.8,726.6 765.5,728.4 772.1,730.1 778.8,731.7 785.5,733.3 792.2,734.8 798.8,736.2 805.5,737.6 812.2,738.9 818.9,740.1 825.5,741.3 832.2,742.4 838.9,743.5 845.6,744.5 852.3,745.4 858.9,746.3 865.6,747.1 872.3,747.8 879.0,748.5 885.6,749.1 892.3,749.6 899.0,750.1 905.7,750.4 912.3,750.7 919.0,750.9 925.7,751.0 932.4,751.0 939.0,750.9 945.7,750.6 952.4,750.2 959.1,749.7 965.8,749.1 972.4,748.3 979.1,747.3 985.8,746.1 992.5,744.8 999.1,743.3 1005.8,741.6 1012.5,739.7 1019.2,737.7 1025.8,735.4 1032.5,733.0 1039.2,730.3 1045.9,727.5 1052.6,724.5 1059.2,721.4 1065.9,718.0 1072.6,714.5 1079.3,710.8 1085.9,706.9 1092.6,702.9 1099.3,698.7 1106.0,694.3 1112.6,689.8 1119.3,685.2 1119.3,770.8 1112.6,771.4 1106.0,772.0 1099.3,772.6 1092.6,773.1 1085.9,773.6 1079.3,774.2 1072.6,774.7 1065.9,775.2 1059.2,775.7 1052.6,776.2 1045.9,776.7 1039.2,777.2 1032.5,777.7 1025.8,778.2 1019.2,778.7 1012.5,779.3 1005.8,779.8 999.1,780.4 992.5,781.0 985.8,781.5 979.1,782.1 972.4,782.7 965.8,783.2 959.1,783.7 952.4,784.2 945.7,784.7 939.0,785.1 932.4,785.4 925.7,785.7 919.0,785.9 912.3,786.1 905.7,786.1 899.0,786.1 892.3,785.9 885.6,785.7 879.0,785.3 872.3,784.9 865.6,784.3 858.9,783.6 852.3,782.8 845.6,781.9 838.9,780.9 832.2,779.8 825.5,778.5 818.9,777.1 812.2,775.7 805.5,774.1 798.8,772.3 792.2,770.5 785.5,768.6 778.8,766.5 772.1,764.4 765.5,762.1 758.8,759.8 752.1,757.3 745.4,754.8 738.7,752.2 732.1,749.5 725.4,746.8 718.7,744.0 712.0,741.1 705.4,738.3 698.7,735.4 692.0,732.5 685.3,729.6 678.7,726.7 672.0,723.8 665.3,721.0 658.6,718.2 652.0,715.4 645.3,712.6 638.6,709.9 631.9,707.2 625.2,704.5 618.6,701.8 611.9,699.1 605.2,696.4 598.5,693.7 591.9,691.0" fill="#999" fill-opacity="0.4"/>
<polyline points="591.9,662.4 598.5,666.7 605.2,670.9 611.9,675.0 618.6,679.1 625.2,683.0 631.9,686.8 638.6,690.6 645.3,694.3 652.0,697.9 658.6,701.4 665.3,704.8 672.0,708.1 678.7,711.3 685.3,714.5 692.0,717.5 698.7,720.5 705.4,723.4 712.0,726.2 718.7,728.8 725.4,731.5 732.1,734.0 738.7,736.4 745.4,738.7 752.1,741.0 758.8,743.2 765.5,745.2 772.1,747.2 778.8,749.1 785.5,750.9 792.2,752.7 798.8,754.3 805.5,755.8 812.2,757.3 818.9,758.6 825.5,759.9 832.2,761.1 838.9,762.2 845.6,763.2 852.3,764.1 858.9,765.0 865.6,765.7 872.3,766.3 879.0,766.9 885.6,767.4 892.3,767.8 899.0,768.1 905.7,768.3 912.3,768.4 919.0,768.4 925.7,768.4 932.4,768.2 939.0,768.0 945.7,767.7 952.4,767.2 959.1,766.7 965.8,766.1 972.4,765.5 979.1,764.7 985.8,763.8 992.5,762.9 999.1,761.9 1005.8,760.7 1012.5,759.5 1019.2,758.2 1025.8,756.8 1032.5,755.3 1039.2,753.8 1045.9,752.1 1052.6,750.4 1059.2,748.5 1065.9,746.6 1072.6,744.6 1079.3,742.5 1085.9,740.3 1092.6,738.0 1099.3,735.6 1106.0,733.2 1112.6,730.6 1119.3,728.0" fill="none" stroke="#3366ff" stroke-width="3.4"/>
<path d="M565.4 449 V1033.5 H1145" fill="none" stroke="#000" stroke-width="3" stroke-linecap="square"/>
<path d="M558 854.0 H565 M558 673.9 H565 M558 493.7 H565 M600.8 1034 V1041 M779.6 1034 V1041 M958.4 1034 V1041 M1137.2 1034 V1041" stroke="#333" stroke-width="2.2"/>
<g font-family="Liberation Sans" font-size="24" fill="#4d4d4d">
<text x="551" y="862.7" text-anchor="end">40</text>
<text x="551" y="682.6" text-anchor="end">60</text>
<text x="551" y="502.4" text-anchor="end">80</text>
<text x="600.8" y="1066" text-anchor="middle">20</text>
<text x="779.6" y="1066" text-anchor="middle">40</text>
<text x="958.4" y="1066" text-anchor="middle">60</text>
<text x="1137.2" y="1066" text-anchor="middle">80</text>
</g>
<text x="855.5" y="1100" text-anchor="middle" font-family="Liberation Sans" font-size="30.5" fill="#000">Age</text>
<text transform="translate(510.5 742) rotate(-90)" text-anchor="middle" font-family="Liberation Sans" font-size="31" fill="#000">Total FIDL score</text>
<text x="1020" y="472.6" font-family="Liberation Sans" font-size="27" font-weight="700" fill="#000">R<tspan font-size="17" dy="-10">2</tspan><tspan dy="10"> = 0.11*</tspan></text>
</svg>

<!-- quoted header -->
<svg style="left:61px;top:232px" width="48" height="48" viewBox="0 0 48 48">
  <defs><clipPath id="av2"><circle cx="24" cy="24" r="24"/></clipPath>
  <filter id="avb2" x="-10%" y="-10%" width="120%" height="120%"><feGaussianBlur stdDeviation="0.7"/></filter></defs>
  <g clip-path="url(#av2)"><g filter="url(#avb2)">
    <rect width="48" height="48" fill="#6a3e3c"/>
    <rect x="0" y="0" width="8" height="48" fill="#7a4a48"/>
    <rect x="10" y="0" width="2" height="40" fill="#4e2c2c"/>
    <rect x="28" y="0" width="20" height="48" fill="#7c6658"/>
    <rect x="36" y="8" width="12" height="20" fill="#8e806e"/>
    <rect x="16" y="0" width="13" height="6" fill="#a8b4ae"/>
    <path d="M17.5 14 Q17 5 25 5.5 Q33 6 33 14 L32 22 Q30 16 25 14 Q20 15 19 22Z" fill="#2a1e1a"/>
    <path d="M20 13 Q25 10 30 13 L30 21 Q28 25 25 25 Q21 25 20 21Z" fill="#c4928a"/>
    <path d="M6 48 L8 30 Q14 25 20 25 L30 25 Q38 26 44 32 L47 48Z" fill="#222436"/>
    <path d="M36 26 Q42 28 46 34 L46 40 Q40 34 35 30Z" fill="#b8b8b4" opacity="0.7"/>
    <path d="M17.5 25 L30 25 L29 48 L19 48Z" fill="#e2e2ec"/>
    <path d="M22 28 L26 28 L25 48 L21.5 48Z" fill="#2e3a7e"/>
    <path d="M3 35 L9 33 L9 35 L3 37Z M3 38 L9 36.5 L9 38.5 L3 40Z" fill="#e8e8f0"/>
  </g></g>
</svg>
<div class="t b" style="left:117px;top:235.9px">Nicholas Fabiano, MD</div>
<svg style="left:433px;top:236.5px" width="37.5" height="37.5" viewBox="0 0 24 24"><path fill="#4a98e6" d="M22.25 12c0-1.43-.88-2.67-2.19-3.34.46-1.39.2-2.9-.81-3.91s-2.52-1.27-3.91-.81c-.66-1.31-1.910-2.19-3.34-2.19s-2.67.88-3.33 2.19c-1.4-.46-2.91-.2-3.92.81s-1.26 2.52-.8 3.91c-1.31.67-2.2 1.91-2.2 3.34s.89 2.67 2.2 3.34c-.46 1.39-.21 2.9.8 3.91s2.52 1.26 3.91.81c.67 1.31 1.91 2.19 3.34 2.19s2.68-.88 3.34-2.19c1.39.45 2.9.2 3.91-.81s1.27-2.52.81-3.91c1.31-.67 2.19-1.91 2.19-3.34zm-11.71 4.2L6.8 12.46l1.41-1.42 2.26 2.26 4.8-5.23 1.47 1.36-6.2 6.77z"/></svg>
<div class="t g" style="left:479.5px;top:235.9px;letter-spacing:-0.35px">@NTFabiano · 10h</div>
<div class="t" style="left:61px;top:287.6px;letter-spacing:0.41px">Peak cognitive flexibility occurs in middle age.</div>
<div class="t" style="left:62px;top:366.6px;letter-spacing:0.27px">There is no expiry date on neuroplasticity.</div>

<!-- timestamp -->
<div class="t g" style="left:34px;top:1143.6px;letter-spacing:-0.33px">9:45 PM · Sep 19, 2025 · <span class="b" style="color:#0f1419">49.7K</span> Views</div>
</body></html>
